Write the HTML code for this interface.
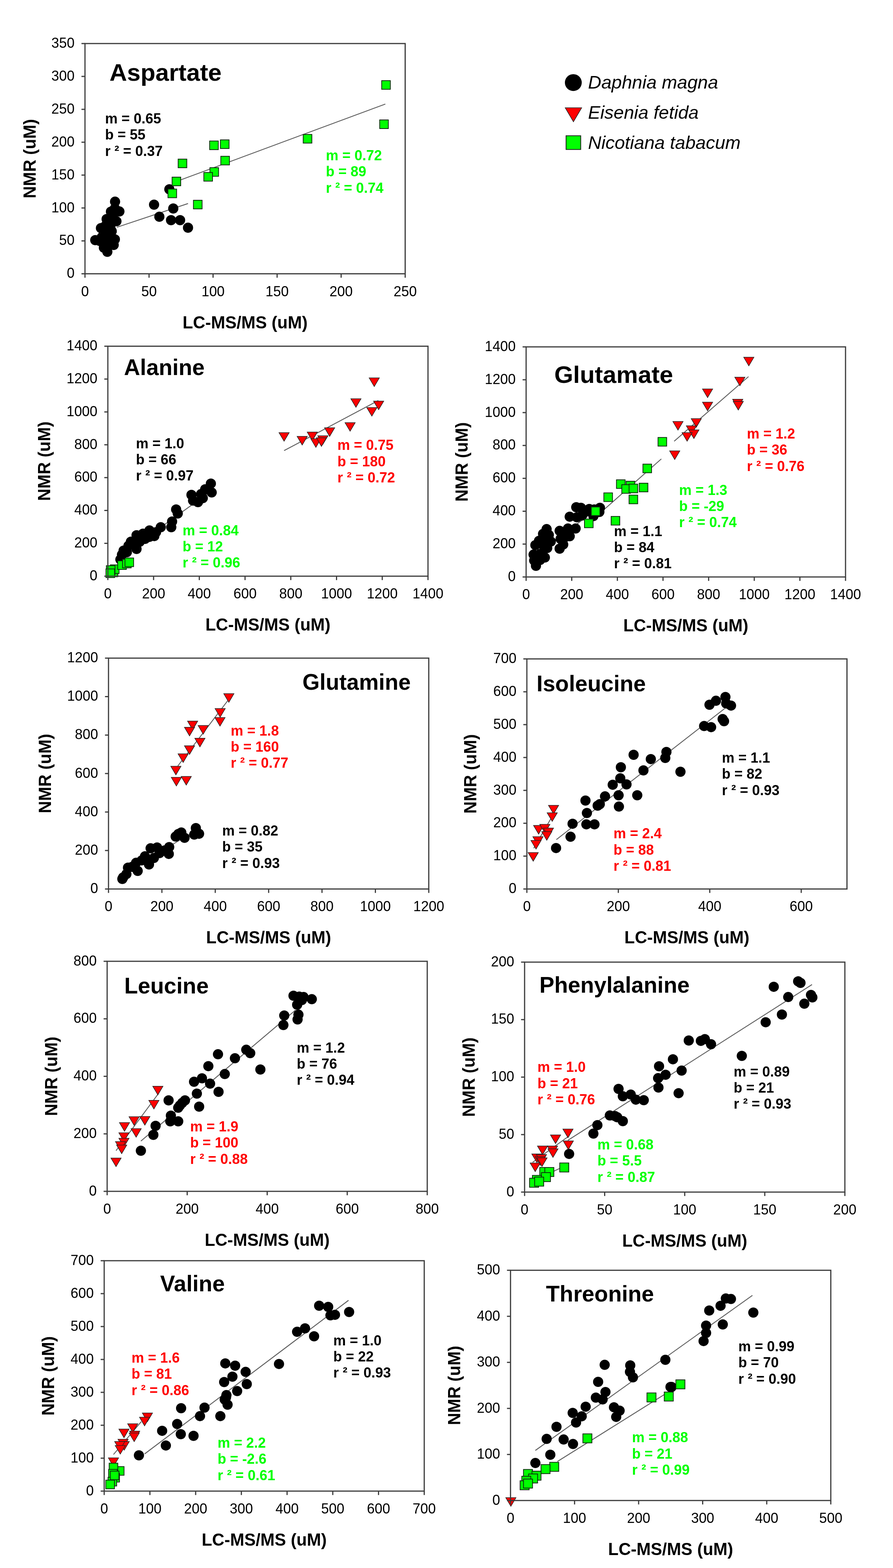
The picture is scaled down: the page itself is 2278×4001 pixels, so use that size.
<!DOCTYPE html>
<html><head><meta charset="utf-8"><title>NMR vs LC-MS/MS</title>
<style>html,body{margin:0;padding:0;background:#fff;} svg{display:block;}</style></head>
<body><svg width="2278" height="4001" viewBox="0 0 2278 4001" font-family="'Liberation Sans', Arial, sans-serif"><line x1="297.9" y1="580" x2="479.6" y2="519.4" stroke="#5a5a5a" stroke-width="2.2"/>
<line x1="461" y1="459" x2="983" y2="265.5" stroke="#5a5a5a" stroke-width="2.2"/>
<circle cx="293.5" cy="514.6" r="13" fill="#000"/>
<circle cx="304.6" cy="539.6" r="13" fill="#000"/>
<circle cx="293.0" cy="532.0" r="13" fill="#000"/>
<circle cx="272.0" cy="559.0" r="13" fill="#000"/>
<circle cx="297.0" cy="564.6" r="13" fill="#000"/>
<circle cx="257.5" cy="582.0" r="13" fill="#000"/>
<circle cx="281.5" cy="580.0" r="13" fill="#000"/>
<circle cx="243.0" cy="612.7" r="13" fill="#000"/>
<circle cx="268.0" cy="612.7" r="13" fill="#000"/>
<circle cx="293.0" cy="610.8" r="13" fill="#000"/>
<circle cx="283.5" cy="622.3" r="13" fill="#000"/>
<circle cx="273.8" cy="642.5" r="13" fill="#000"/>
<circle cx="277.7" cy="595.4" r="13" fill="#000"/>
<circle cx="264.2" cy="599.0" r="13" fill="#000"/>
<circle cx="287.3" cy="551.0" r="13" fill="#000"/>
<circle cx="283.0" cy="540.0" r="13" fill="#000"/>
<circle cx="290.0" cy="560.0" r="13" fill="#000"/>
<circle cx="280.0" cy="565.0" r="13" fill="#000"/>
<circle cx="270.0" cy="575.0" r="13" fill="#000"/>
<circle cx="285.0" cy="590.0" r="13" fill="#000"/>
<circle cx="270.0" cy="595.0" r="13" fill="#000"/>
<circle cx="260.0" cy="605.0" r="13" fill="#000"/>
<circle cx="280.0" cy="610.0" r="13" fill="#000"/>
<circle cx="255.0" cy="615.0" r="13" fill="#000"/>
<circle cx="275.0" cy="625.0" r="13" fill="#000"/>
<circle cx="290.0" cy="625.0" r="13" fill="#000"/>
<circle cx="265.0" cy="632.0" r="13" fill="#000"/>
<circle cx="393.0" cy="522.3" r="13" fill="#000"/>
<circle cx="442.0" cy="532.0" r="13" fill="#000"/>
<circle cx="406.5" cy="553.0" r="13" fill="#000"/>
<circle cx="436.3" cy="561.7" r="13" fill="#000"/>
<circle cx="459.4" cy="561.7" r="13" fill="#000"/>
<circle cx="479.6" cy="581.0" r="13" fill="#000"/>
<circle cx="432.0" cy="483.0" r="13" fill="#000"/>
<rect x="534.8" y="359.8" width="22" height="22" fill="#00ff00" stroke="#0d2a0d" stroke-width="2"/>
<rect x="562.3" y="356.9" width="22" height="22" fill="#00ff00" stroke="#0d2a0d" stroke-width="2"/>
<rect x="454.5" y="406.0" width="22" height="22" fill="#00ff00" stroke="#0d2a0d" stroke-width="2"/>
<rect x="439.0" y="452.0" width="22" height="22" fill="#00ff00" stroke="#0d2a0d" stroke-width="2"/>
<rect x="428.5" y="482.5" width="22" height="22" fill="#00ff00" stroke="#0d2a0d" stroke-width="2"/>
<rect x="535.5" y="427.8" width="22" height="22" fill="#00ff00" stroke="#0d2a0d" stroke-width="2"/>
<rect x="520.0" y="440.2" width="22" height="22" fill="#00ff00" stroke="#0d2a0d" stroke-width="2"/>
<rect x="493.5" y="511.0" width="22" height="22" fill="#00ff00" stroke="#0d2a0d" stroke-width="2"/>
<rect x="563.3" y="398.8" width="22" height="22" fill="#00ff00" stroke="#0d2a0d" stroke-width="2"/>
<rect x="773.5" y="343.1" width="22" height="22" fill="#00ff00" stroke="#0d2a0d" stroke-width="2"/>
<rect x="973.7" y="205.8" width="22" height="22" fill="#00ff00" stroke="#0d2a0d" stroke-width="2"/>
<rect x="968.6" y="306.0" width="22" height="22" fill="#00ff00" stroke="#0d2a0d" stroke-width="2"/>
<rect x="216.8" y="111.1" width="816.8" height="587.5" fill="none" stroke="#3c3c3c" stroke-width="3"/>
<line x1="216.8" y1="698.6" x2="216.8" y2="708.6" stroke="#3c3c3c" stroke-width="3"/>
<text transform="translate(216.8 755.6) scale(1 1.04)" font-size="35.5" font-weight="normal" font-style="normal" text-anchor="middle" fill="#000" >0</text>
<line x1="380.2" y1="698.6" x2="380.2" y2="708.6" stroke="#3c3c3c" stroke-width="3"/>
<text transform="translate(380.2 755.6) scale(1 1.04)" font-size="35.5" font-weight="normal" font-style="normal" text-anchor="middle" fill="#000" >50</text>
<line x1="543.5" y1="698.6" x2="543.5" y2="708.6" stroke="#3c3c3c" stroke-width="3"/>
<text transform="translate(543.5 755.6) scale(1 1.04)" font-size="35.5" font-weight="normal" font-style="normal" text-anchor="middle" fill="#000" >100</text>
<line x1="706.9" y1="698.6" x2="706.9" y2="708.6" stroke="#3c3c3c" stroke-width="3"/>
<text transform="translate(706.9 755.6) scale(1 1.04)" font-size="35.5" font-weight="normal" font-style="normal" text-anchor="middle" fill="#000" >150</text>
<line x1="870.2" y1="698.6" x2="870.2" y2="708.6" stroke="#3c3c3c" stroke-width="3"/>
<text transform="translate(870.2 755.6) scale(1 1.04)" font-size="35.5" font-weight="normal" font-style="normal" text-anchor="middle" fill="#000" >200</text>
<line x1="1033.6" y1="698.6" x2="1033.6" y2="708.6" stroke="#3c3c3c" stroke-width="3"/>
<text transform="translate(1033.6 755.6) scale(1 1.04)" font-size="35.5" font-weight="normal" font-style="normal" text-anchor="middle" fill="#000" >250</text>
<line x1="207.8" y1="698.6" x2="216.8" y2="698.6" stroke="#3c3c3c" stroke-width="3"/>
<text transform="translate(190.3 709.3) scale(1 1.04)" font-size="35.5" font-weight="normal" font-style="normal" text-anchor="end" fill="#000" >0</text>
<line x1="207.8" y1="614.7" x2="216.8" y2="614.7" stroke="#3c3c3c" stroke-width="3"/>
<text transform="translate(190.3 625.4) scale(1 1.04)" font-size="35.5" font-weight="normal" font-style="normal" text-anchor="end" fill="#000" >50</text>
<line x1="207.8" y1="530.7" x2="216.8" y2="530.7" stroke="#3c3c3c" stroke-width="3"/>
<text transform="translate(190.3 541.5) scale(1 1.04)" font-size="35.5" font-weight="normal" font-style="normal" text-anchor="end" fill="#000" >100</text>
<line x1="207.8" y1="446.8" x2="216.8" y2="446.8" stroke="#3c3c3c" stroke-width="3"/>
<text transform="translate(190.3 457.5) scale(1 1.04)" font-size="35.5" font-weight="normal" font-style="normal" text-anchor="end" fill="#000" >150</text>
<line x1="207.8" y1="362.9" x2="216.8" y2="362.9" stroke="#3c3c3c" stroke-width="3"/>
<text transform="translate(190.3 373.6) scale(1 1.04)" font-size="35.5" font-weight="normal" font-style="normal" text-anchor="end" fill="#000" >200</text>
<line x1="207.8" y1="279.0" x2="216.8" y2="279.0" stroke="#3c3c3c" stroke-width="3"/>
<text transform="translate(190.3 289.7) scale(1 1.04)" font-size="35.5" font-weight="normal" font-style="normal" text-anchor="end" fill="#000" >250</text>
<line x1="207.8" y1="195.0" x2="216.8" y2="195.0" stroke="#3c3c3c" stroke-width="3"/>
<text transform="translate(190.3 205.7) scale(1 1.04)" font-size="35.5" font-weight="normal" font-style="normal" text-anchor="end" fill="#000" >300</text>
<line x1="207.8" y1="111.1" x2="216.8" y2="111.1" stroke="#3c3c3c" stroke-width="3"/>
<text transform="translate(190.3 121.8) scale(1 1.04)" font-size="35.5" font-weight="normal" font-style="normal" text-anchor="end" fill="#000" >350</text>
<text x="625.2" y="837.6" font-size="43.5" font-weight="bold" font-style="normal" text-anchor="middle" fill="#000" >LC-MS/MS (uM)</text>
<text x="91.0" y="404.9" font-size="43.5" font-weight="bold" font-style="normal" text-anchor="middle" fill="#000" transform="rotate(-90 91.0 404.9)">NMR (uM)</text>
<text x="279.3" y="205.9" font-size="62" font-weight="bold" font-style="normal" text-anchor="start" fill="#000" >Aspartate</text>
<text transform="translate(268.0 315.0) scale(1 1.045)" font-size="36" font-weight="bold" font-style="normal" text-anchor="start" fill="#000" >m = 0.65</text>
<text transform="translate(268.0 356.3) scale(1 1.045)" font-size="36" font-weight="bold" font-style="normal" text-anchor="start" fill="#000" >b = 55</text>
<text transform="translate(268.0 397.6) scale(1 1.045)" font-size="36" font-weight="bold" font-style="normal" text-anchor="start" fill="#000" >r ² = 0.37</text>
<text transform="translate(831.2 409.0) scale(1 1.045)" font-size="36" font-weight="bold" font-style="normal" text-anchor="start" fill="#00ff00" >m = 0.72</text>
<text transform="translate(831.2 450.3) scale(1 1.045)" font-size="36" font-weight="bold" font-style="normal" text-anchor="start" fill="#00ff00" >b = 89</text>
<text transform="translate(831.2 491.6) scale(1 1.045)" font-size="36" font-weight="bold" font-style="normal" text-anchor="start" fill="#00ff00" >r ² = 0.74</text>
<line x1="307.2" y1="1419.5" x2="540.5" y2="1251.8" stroke="#5a5a5a" stroke-width="2.2"/>
<line x1="283.9" y1="1465.9" x2="327.6" y2="1433.5" stroke="#5a5a5a" stroke-width="2.2"/>
<line x1="724.7" y1="1149.8" x2="965.1" y2="1022" stroke="#5a5a5a" stroke-width="2.2"/>
<circle cx="537.9" cy="1233.9" r="13" fill="#000"/>
<circle cx="540.0" cy="1256.6" r="13" fill="#000"/>
<circle cx="523.4" cy="1248.4" r="13" fill="#000"/>
<circle cx="513.0" cy="1260.7" r="13" fill="#000"/>
<circle cx="488.4" cy="1262.8" r="13" fill="#000"/>
<circle cx="492.5" cy="1277.2" r="13" fill="#000"/>
<circle cx="505.0" cy="1281.3" r="13" fill="#000"/>
<circle cx="517.3" cy="1271.0" r="13" fill="#000"/>
<circle cx="449.3" cy="1299.9" r="13" fill="#000"/>
<circle cx="453.4" cy="1310.2" r="13" fill="#000"/>
<circle cx="439.0" cy="1330.8" r="13" fill="#000"/>
<circle cx="436.9" cy="1345.2" r="13" fill="#000"/>
<circle cx="410.1" cy="1345.2" r="13" fill="#000"/>
<circle cx="381.3" cy="1353.5" r="13" fill="#000"/>
<circle cx="393.6" cy="1367.9" r="13" fill="#000"/>
<circle cx="381.3" cy="1369.9" r="13" fill="#000"/>
<circle cx="364.8" cy="1361.7" r="13" fill="#000"/>
<circle cx="348.3" cy="1365.8" r="13" fill="#000"/>
<circle cx="356.5" cy="1382.3" r="13" fill="#000"/>
<circle cx="348.3" cy="1400.8" r="13" fill="#000"/>
<circle cx="333.9" cy="1382.3" r="13" fill="#000"/>
<circle cx="327.7" cy="1392.6" r="13" fill="#000"/>
<circle cx="315.3" cy="1405.0" r="13" fill="#000"/>
<circle cx="311.2" cy="1415.3" r="13" fill="#000"/>
<circle cx="323.6" cy="1409.1" r="13" fill="#000"/>
<circle cx="307.1" cy="1427.6" r="13" fill="#000"/>
<circle cx="340.0" cy="1390.0" r="13" fill="#000"/>
<circle cx="370.0" cy="1375.0" r="13" fill="#000"/>
<circle cx="398.0" cy="1358.0" r="13" fill="#000"/>
<polygon points="941.7,964.3 967.7,964.3 954.7,986.3" fill="#ff0000" stroke="#222" stroke-width="1.5"/>
<polygon points="895.0,1017.4 921.0,1017.4 908.0,1039.4" fill="#ff0000" stroke="#222" stroke-width="1.5"/>
<polygon points="952.9,1023.4 978.9,1023.4 965.9,1045.4" fill="#ff0000" stroke="#222" stroke-width="1.5"/>
<polygon points="935.6,1039.9 961.6,1039.9 948.6,1061.9" fill="#ff0000" stroke="#222" stroke-width="1.5"/>
<polygon points="880.1,1078.4 906.1,1078.4 893.1,1100.4" fill="#ff0000" stroke="#222" stroke-width="1.5"/>
<polygon points="827.9,1091.5 853.9,1091.5 840.9,1113.5" fill="#ff0000" stroke="#222" stroke-width="1.5"/>
<polygon points="711.7,1103.9 737.7,1103.9 724.7,1125.9" fill="#ff0000" stroke="#222" stroke-width="1.5"/>
<polygon points="757.9,1113.5 783.9,1113.5 770.9,1135.5" fill="#ff0000" stroke="#222" stroke-width="1.5"/>
<polygon points="783.7,1102.5 809.7,1102.5 796.7,1124.5" fill="#ff0000" stroke="#222" stroke-width="1.5"/>
<polygon points="792.8,1119.6 818.8,1119.6 805.8,1141.6" fill="#ff0000" stroke="#222" stroke-width="1.5"/>
<polygon points="810.6,1111.9 836.6,1111.9 823.6,1133.9" fill="#ff0000" stroke="#222" stroke-width="1.5"/>
<polygon points="807.0,1117.0 833.0,1117.0 820.0,1139.0" fill="#ff0000" stroke="#222" stroke-width="1.5"/>
<rect x="278.6" y="1449.6" width="22" height="22" fill="#00ff00" stroke="#0d2a0d" stroke-width="2"/>
<rect x="281.7" y="1441.4" width="22" height="22" fill="#00ff00" stroke="#0d2a0d" stroke-width="2"/>
<rect x="271.4" y="1443.4" width="22" height="22" fill="#00ff00" stroke="#0d2a0d" stroke-width="2"/>
<rect x="300.2" y="1431.0" width="22" height="22" fill="#00ff00" stroke="#0d2a0d" stroke-width="2"/>
<rect x="312.6" y="1427.0" width="22" height="22" fill="#00ff00" stroke="#0d2a0d" stroke-width="2"/>
<rect x="318.8" y="1423.8" width="22" height="22" fill="#00ff00" stroke="#0d2a0d" stroke-width="2"/>
<rect x="270.3" y="1451.7" width="22" height="22" fill="#00ff00" stroke="#0d2a0d" stroke-width="2"/>
<rect x="275.1" y="883.4" width="816.6999999999999" height="586.8000000000001" fill="none" stroke="#3c3c3c" stroke-width="3"/>
<line x1="275.1" y1="1470.2" x2="275.1" y2="1480.2" stroke="#3c3c3c" stroke-width="3"/>
<text transform="translate(275.1 1527.2) scale(1 1.04)" font-size="35.5" font-weight="normal" font-style="normal" text-anchor="middle" fill="#000" >0</text>
<line x1="391.8" y1="1470.2" x2="391.8" y2="1480.2" stroke="#3c3c3c" stroke-width="3"/>
<text transform="translate(391.8 1527.2) scale(1 1.04)" font-size="35.5" font-weight="normal" font-style="normal" text-anchor="middle" fill="#000" >200</text>
<line x1="508.4" y1="1470.2" x2="508.4" y2="1480.2" stroke="#3c3c3c" stroke-width="3"/>
<text transform="translate(508.4 1527.2) scale(1 1.04)" font-size="35.5" font-weight="normal" font-style="normal" text-anchor="middle" fill="#000" >400</text>
<line x1="625.1" y1="1470.2" x2="625.1" y2="1480.2" stroke="#3c3c3c" stroke-width="3"/>
<text transform="translate(625.1 1527.2) scale(1 1.04)" font-size="35.5" font-weight="normal" font-style="normal" text-anchor="middle" fill="#000" >600</text>
<line x1="741.8" y1="1470.2" x2="741.8" y2="1480.2" stroke="#3c3c3c" stroke-width="3"/>
<text transform="translate(741.8 1527.2) scale(1 1.04)" font-size="35.5" font-weight="normal" font-style="normal" text-anchor="middle" fill="#000" >800</text>
<line x1="858.5" y1="1470.2" x2="858.5" y2="1480.2" stroke="#3c3c3c" stroke-width="3"/>
<text transform="translate(858.5 1527.2) scale(1 1.04)" font-size="35.5" font-weight="normal" font-style="normal" text-anchor="middle" fill="#000" >1000</text>
<line x1="975.1" y1="1470.2" x2="975.1" y2="1480.2" stroke="#3c3c3c" stroke-width="3"/>
<text transform="translate(975.1 1527.2) scale(1 1.04)" font-size="35.5" font-weight="normal" font-style="normal" text-anchor="middle" fill="#000" >1200</text>
<line x1="1091.8" y1="1470.2" x2="1091.8" y2="1480.2" stroke="#3c3c3c" stroke-width="3"/>
<text transform="translate(1091.8 1527.2) scale(1 1.04)" font-size="35.5" font-weight="normal" font-style="normal" text-anchor="middle" fill="#000" >1400</text>
<line x1="266.1" y1="1470.2" x2="275.1" y2="1470.2" stroke="#3c3c3c" stroke-width="3"/>
<text transform="translate(248.6 1480.9) scale(1 1.04)" font-size="35.5" font-weight="normal" font-style="normal" text-anchor="end" fill="#000" >0</text>
<line x1="266.1" y1="1386.4" x2="275.1" y2="1386.4" stroke="#3c3c3c" stroke-width="3"/>
<text transform="translate(248.6 1397.1) scale(1 1.04)" font-size="35.5" font-weight="normal" font-style="normal" text-anchor="end" fill="#000" >200</text>
<line x1="266.1" y1="1302.5" x2="275.1" y2="1302.5" stroke="#3c3c3c" stroke-width="3"/>
<text transform="translate(248.6 1313.3) scale(1 1.04)" font-size="35.5" font-weight="normal" font-style="normal" text-anchor="end" fill="#000" >400</text>
<line x1="266.1" y1="1218.7" x2="275.1" y2="1218.7" stroke="#3c3c3c" stroke-width="3"/>
<text transform="translate(248.6 1229.4) scale(1 1.04)" font-size="35.5" font-weight="normal" font-style="normal" text-anchor="end" fill="#000" >600</text>
<line x1="266.1" y1="1134.9" x2="275.1" y2="1134.9" stroke="#3c3c3c" stroke-width="3"/>
<text transform="translate(248.6 1145.6) scale(1 1.04)" font-size="35.5" font-weight="normal" font-style="normal" text-anchor="end" fill="#000" >800</text>
<line x1="266.1" y1="1051.1" x2="275.1" y2="1051.1" stroke="#3c3c3c" stroke-width="3"/>
<text transform="translate(248.6 1061.8) scale(1 1.04)" font-size="35.5" font-weight="normal" font-style="normal" text-anchor="end" fill="#000" >1000</text>
<line x1="266.1" y1="967.2" x2="275.1" y2="967.2" stroke="#3c3c3c" stroke-width="3"/>
<text transform="translate(248.6 977.9) scale(1 1.04)" font-size="35.5" font-weight="normal" font-style="normal" text-anchor="end" fill="#000" >1200</text>
<line x1="266.1" y1="883.4" x2="275.1" y2="883.4" stroke="#3c3c3c" stroke-width="3"/>
<text transform="translate(248.6 894.1) scale(1 1.04)" font-size="35.5" font-weight="normal" font-style="normal" text-anchor="end" fill="#000" >1400</text>
<text x="683.5" y="1609.2" font-size="43.5" font-weight="bold" font-style="normal" text-anchor="middle" fill="#000" >LC-MS/MS (uM)</text>
<text x="128.5" y="1176.8" font-size="43.5" font-weight="bold" font-style="normal" text-anchor="middle" fill="#000" transform="rotate(-90 128.5 1176.8)">NMR (uM)</text>
<text x="316.2" y="956.9" font-size="57" font-weight="bold" font-style="normal" text-anchor="start" fill="#000" >Alanine</text>
<text transform="translate(346.7 1143.7) scale(1 1.045)" font-size="36" font-weight="bold" font-style="normal" text-anchor="start" fill="#000" >m = 1.0</text>
<text transform="translate(346.7 1185.0) scale(1 1.045)" font-size="36" font-weight="bold" font-style="normal" text-anchor="start" fill="#000" >b = 66</text>
<text transform="translate(346.7 1226.3) scale(1 1.045)" font-size="36" font-weight="bold" font-style="normal" text-anchor="start" fill="#000" >r ² = 0.97</text>
<text transform="translate(465.8 1365.8) scale(1 1.045)" font-size="36" font-weight="bold" font-style="normal" text-anchor="start" fill="#00ff00" >m = 0.84</text>
<text transform="translate(465.8 1407.1) scale(1 1.045)" font-size="36" font-weight="bold" font-style="normal" text-anchor="start" fill="#00ff00" >b = 12</text>
<text transform="translate(465.8 1448.4) scale(1 1.045)" font-size="36" font-weight="bold" font-style="normal" text-anchor="start" fill="#00ff00" >r ² = 0.96</text>
<text transform="translate(860.7 1148.4) scale(1 1.045)" font-size="36" font-weight="bold" font-style="normal" text-anchor="start" fill="#ff0000" >m = 0.75</text>
<text transform="translate(860.7 1189.7) scale(1 1.045)" font-size="36" font-weight="bold" font-style="normal" text-anchor="start" fill="#ff0000" >b = 180</text>
<text transform="translate(860.7 1231.0) scale(1 1.045)" font-size="36" font-weight="bold" font-style="normal" text-anchor="start" fill="#ff0000" >r ² = 0.72</text>
<line x1="1365" y1="1418" x2="1534" y2="1290" stroke="#5a5a5a" stroke-width="2.2"/>
<line x1="1505" y1="1332" x2="1687" y2="1171" stroke="#5a5a5a" stroke-width="2.2"/>
<line x1="1719.8" y1="1125.9" x2="1909.4" y2="961" stroke="#5a5a5a" stroke-width="2.2"/>
<circle cx="1470.0" cy="1294.2" r="13" fill="#000"/>
<circle cx="1482.0" cy="1295.7" r="13" fill="#000"/>
<circle cx="1503.2" cy="1298.7" r="13" fill="#000"/>
<circle cx="1530.4" cy="1295.7" r="13" fill="#000"/>
<circle cx="1528.9" cy="1306.3" r="13" fill="#000"/>
<circle cx="1453.3" cy="1318.4" r="13" fill="#000"/>
<circle cx="1471.5" cy="1319.9" r="13" fill="#000"/>
<circle cx="1513.8" cy="1316.8" r="13" fill="#000"/>
<circle cx="1485.0" cy="1315.3" r="13" fill="#000"/>
<circle cx="1495.0" cy="1305.0" r="13" fill="#000"/>
<circle cx="1516.0" cy="1300.0" r="13" fill="#000"/>
<circle cx="1468.4" cy="1348.6" r="13" fill="#000"/>
<circle cx="1448.8" cy="1348.6" r="13" fill="#000"/>
<circle cx="1427.6" cy="1354.6" r="13" fill="#000"/>
<circle cx="1453.3" cy="1368.2" r="13" fill="#000"/>
<circle cx="1442.7" cy="1369.7" r="13" fill="#000"/>
<circle cx="1430.0" cy="1375.0" r="13" fill="#000"/>
<circle cx="1394.4" cy="1350.1" r="13" fill="#000"/>
<circle cx="1385.3" cy="1362.2" r="13" fill="#000"/>
<circle cx="1405.0" cy="1381.8" r="13" fill="#000"/>
<circle cx="1427.6" cy="1400.0" r="13" fill="#000"/>
<circle cx="1436.7" cy="1389.4" r="13" fill="#000"/>
<circle cx="1365.7" cy="1390.9" r="13" fill="#000"/>
<circle cx="1385.3" cy="1390.9" r="13" fill="#000"/>
<circle cx="1395.9" cy="1398.4" r="13" fill="#000"/>
<circle cx="1361.2" cy="1415.1" r="13" fill="#000"/>
<circle cx="1389.9" cy="1422.6" r="13" fill="#000"/>
<circle cx="1377.8" cy="1413.5" r="13" fill="#000"/>
<circle cx="1367.2" cy="1443.8" r="13" fill="#000"/>
<circle cx="1362.7" cy="1430.2" r="13" fill="#000"/>
<circle cx="1377.8" cy="1428.7" r="13" fill="#000"/>
<circle cx="1392.0" cy="1372.0" r="13" fill="#000"/>
<circle cx="1400.0" cy="1365.0" r="13" fill="#000"/>
<circle cx="1375.0" cy="1380.0" r="13" fill="#000"/>
<polygon points="1897.2,911.6 1923.2,911.6 1910.2,933.6" fill="#ff0000" stroke="#222" stroke-width="1.5"/>
<polygon points="1874.4,962.4 1900.4,962.4 1887.4,984.4" fill="#ff0000" stroke="#222" stroke-width="1.5"/>
<polygon points="1792.0,992.6 1818.0,992.6 1805.0,1014.6" fill="#ff0000" stroke="#222" stroke-width="1.5"/>
<polygon points="1792.0,1026.2 1818.0,1026.2 1805.0,1048.2" fill="#ff0000" stroke="#222" stroke-width="1.5"/>
<polygon points="1868.9,1018.7 1894.9,1018.7 1881.9,1040.7" fill="#ff0000" stroke="#222" stroke-width="1.5"/>
<polygon points="1870.3,1024.2 1896.3,1024.2 1883.3,1046.2" fill="#ff0000" stroke="#222" stroke-width="1.5"/>
<polygon points="1763.2,1068.2 1789.2,1068.2 1776.2,1090.2" fill="#ff0000" stroke="#222" stroke-width="1.5"/>
<polygon points="1716.5,1075.6 1742.5,1075.6 1729.5,1097.6" fill="#ff0000" stroke="#222" stroke-width="1.5"/>
<polygon points="1750.8,1086.6 1776.8,1086.6 1763.8,1108.6" fill="#ff0000" stroke="#222" stroke-width="1.5"/>
<polygon points="1757.1,1097.0 1783.1,1097.0 1770.1,1119.0" fill="#ff0000" stroke="#222" stroke-width="1.5"/>
<polygon points="1739.8,1103.9 1765.8,1103.9 1752.8,1125.9" fill="#ff0000" stroke="#222" stroke-width="1.5"/>
<polygon points="1708.2,1150.6 1734.2,1150.6 1721.2,1172.6" fill="#ff0000" stroke="#222" stroke-width="1.5"/>
<rect x="1640.1" y="1184.3" width="22" height="22" fill="#00ff00" stroke="#0d2a0d" stroke-width="2"/>
<rect x="1572.6" y="1224.3" width="22" height="22" fill="#00ff00" stroke="#0d2a0d" stroke-width="2"/>
<rect x="1597.3" y="1228.0" width="22" height="22" fill="#00ff00" stroke="#0d2a0d" stroke-width="2"/>
<rect x="1586.2" y="1236.7" width="22" height="22" fill="#00ff00" stroke="#0d2a0d" stroke-width="2"/>
<rect x="1604.7" y="1235.4" width="22" height="22" fill="#00ff00" stroke="#0d2a0d" stroke-width="2"/>
<rect x="1630.7" y="1233.0" width="22" height="22" fill="#00ff00" stroke="#0d2a0d" stroke-width="2"/>
<rect x="1540.4" y="1257.7" width="22" height="22" fill="#00ff00" stroke="#0d2a0d" stroke-width="2"/>
<rect x="1604.7" y="1263.4" width="22" height="22" fill="#00ff00" stroke="#0d2a0d" stroke-width="2"/>
<rect x="1508.3" y="1293.6" width="22" height="22" fill="#00ff00" stroke="#0d2a0d" stroke-width="2"/>
<rect x="1491.0" y="1324.5" width="22" height="22" fill="#00ff00" stroke="#0d2a0d" stroke-width="2"/>
<rect x="1559.0" y="1317.8" width="22" height="22" fill="#00ff00" stroke="#0d2a0d" stroke-width="2"/>
<rect x="1678.6" y="1116.3" width="22" height="22" fill="#00ff00" stroke="#0d2a0d" stroke-width="2"/>
<rect x="1342.1" y="885.1" width="814.8000000000002" height="587.1" fill="none" stroke="#3c3c3c" stroke-width="3"/>
<line x1="1342.1" y1="1472.2" x2="1342.1" y2="1482.2" stroke="#3c3c3c" stroke-width="3"/>
<text transform="translate(1342.1 1529.2) scale(1 1.04)" font-size="35.5" font-weight="normal" font-style="normal" text-anchor="middle" fill="#000" >0</text>
<line x1="1458.5" y1="1472.2" x2="1458.5" y2="1482.2" stroke="#3c3c3c" stroke-width="3"/>
<text transform="translate(1458.5 1529.2) scale(1 1.04)" font-size="35.5" font-weight="normal" font-style="normal" text-anchor="middle" fill="#000" >200</text>
<line x1="1574.9" y1="1472.2" x2="1574.9" y2="1482.2" stroke="#3c3c3c" stroke-width="3"/>
<text transform="translate(1574.9 1529.2) scale(1 1.04)" font-size="35.5" font-weight="normal" font-style="normal" text-anchor="middle" fill="#000" >400</text>
<line x1="1691.3" y1="1472.2" x2="1691.3" y2="1482.2" stroke="#3c3c3c" stroke-width="3"/>
<text transform="translate(1691.3 1529.2) scale(1 1.04)" font-size="35.5" font-weight="normal" font-style="normal" text-anchor="middle" fill="#000" >600</text>
<line x1="1807.7" y1="1472.2" x2="1807.7" y2="1482.2" stroke="#3c3c3c" stroke-width="3"/>
<text transform="translate(1807.7 1529.2) scale(1 1.04)" font-size="35.5" font-weight="normal" font-style="normal" text-anchor="middle" fill="#000" >800</text>
<line x1="1924.1" y1="1472.2" x2="1924.1" y2="1482.2" stroke="#3c3c3c" stroke-width="3"/>
<text transform="translate(1924.1 1529.2) scale(1 1.04)" font-size="35.5" font-weight="normal" font-style="normal" text-anchor="middle" fill="#000" >1000</text>
<line x1="2040.5" y1="1472.2" x2="2040.5" y2="1482.2" stroke="#3c3c3c" stroke-width="3"/>
<text transform="translate(2040.5 1529.2) scale(1 1.04)" font-size="35.5" font-weight="normal" font-style="normal" text-anchor="middle" fill="#000" >1200</text>
<line x1="2156.9" y1="1472.2" x2="2156.9" y2="1482.2" stroke="#3c3c3c" stroke-width="3"/>
<text transform="translate(2156.9 1529.2) scale(1 1.04)" font-size="35.5" font-weight="normal" font-style="normal" text-anchor="middle" fill="#000" >1400</text>
<line x1="1333.1" y1="1472.2" x2="1342.1" y2="1472.2" stroke="#3c3c3c" stroke-width="3"/>
<text transform="translate(1315.6 1482.9) scale(1 1.04)" font-size="35.5" font-weight="normal" font-style="normal" text-anchor="end" fill="#000" >0</text>
<line x1="1333.1" y1="1388.3" x2="1342.1" y2="1388.3" stroke="#3c3c3c" stroke-width="3"/>
<text transform="translate(1315.6 1399.0) scale(1 1.04)" font-size="35.5" font-weight="normal" font-style="normal" text-anchor="end" fill="#000" >200</text>
<line x1="1333.1" y1="1304.5" x2="1342.1" y2="1304.5" stroke="#3c3c3c" stroke-width="3"/>
<text transform="translate(1315.6 1315.2) scale(1 1.04)" font-size="35.5" font-weight="normal" font-style="normal" text-anchor="end" fill="#000" >400</text>
<line x1="1333.1" y1="1220.6" x2="1342.1" y2="1220.6" stroke="#3c3c3c" stroke-width="3"/>
<text transform="translate(1315.6 1231.3) scale(1 1.04)" font-size="35.5" font-weight="normal" font-style="normal" text-anchor="end" fill="#000" >600</text>
<line x1="1333.1" y1="1136.7" x2="1342.1" y2="1136.7" stroke="#3c3c3c" stroke-width="3"/>
<text transform="translate(1315.6 1147.4) scale(1 1.04)" font-size="35.5" font-weight="normal" font-style="normal" text-anchor="end" fill="#000" >800</text>
<line x1="1333.1" y1="1052.8" x2="1342.1" y2="1052.8" stroke="#3c3c3c" stroke-width="3"/>
<text transform="translate(1315.6 1063.6) scale(1 1.04)" font-size="35.5" font-weight="normal" font-style="normal" text-anchor="end" fill="#000" >1000</text>
<line x1="1333.1" y1="969.0" x2="1342.1" y2="969.0" stroke="#3c3c3c" stroke-width="3"/>
<text transform="translate(1315.6 979.7) scale(1 1.04)" font-size="35.5" font-weight="normal" font-style="normal" text-anchor="end" fill="#000" >1200</text>
<line x1="1333.1" y1="885.1" x2="1342.1" y2="885.1" stroke="#3c3c3c" stroke-width="3"/>
<text transform="translate(1315.6 895.8) scale(1 1.04)" font-size="35.5" font-weight="normal" font-style="normal" text-anchor="end" fill="#000" >1400</text>
<text x="1749.5" y="1611.2" font-size="43.5" font-weight="bold" font-style="normal" text-anchor="middle" fill="#000" >LC-MS/MS (uM)</text>
<text x="1193.0" y="1178.7" font-size="43.5" font-weight="bold" font-style="normal" text-anchor="middle" fill="#000" transform="rotate(-90 1193.0 1178.7)">NMR (uM)</text>
<text x="1413.9" y="976.8" font-size="62" font-weight="bold" font-style="normal" text-anchor="start" fill="#000" >Glutamate</text>
<text transform="translate(1566.3 1367.6) scale(1 1.045)" font-size="36" font-weight="bold" font-style="normal" text-anchor="start" fill="#000" >m = 1.1</text>
<text transform="translate(1566.3 1408.9) scale(1 1.045)" font-size="36" font-weight="bold" font-style="normal" text-anchor="start" fill="#000" >b = 84</text>
<text transform="translate(1566.3 1450.2) scale(1 1.045)" font-size="36" font-weight="bold" font-style="normal" text-anchor="start" fill="#000" >r ² = 0.81</text>
<text transform="translate(1732.3 1262.5) scale(1 1.045)" font-size="36" font-weight="bold" font-style="normal" text-anchor="start" fill="#00ff00" >m = 1.3</text>
<text transform="translate(1732.3 1303.8) scale(1 1.045)" font-size="36" font-weight="bold" font-style="normal" text-anchor="start" fill="#00ff00" >b = -29</text>
<text transform="translate(1732.3 1345.1) scale(1 1.045)" font-size="36" font-weight="bold" font-style="normal" text-anchor="start" fill="#00ff00" >r ² = 0.74</text>
<text transform="translate(1905.3 1119.0) scale(1 1.045)" font-size="36" font-weight="bold" font-style="normal" text-anchor="start" fill="#ff0000" >m = 1.2</text>
<text transform="translate(1905.3 1160.3) scale(1 1.045)" font-size="36" font-weight="bold" font-style="normal" text-anchor="start" fill="#ff0000" >b = 36</text>
<text transform="translate(1905.3 1201.6) scale(1 1.045)" font-size="36" font-weight="bold" font-style="normal" text-anchor="start" fill="#ff0000" >r ² = 0.76</text>
<line x1="310.8" y1="2231.1" x2="501.5" y2="2118.4" stroke="#5a5a5a" stroke-width="2.2"/>
<line x1="453.5" y1="1954.7" x2="582.1" y2="1786.4" stroke="#5a5a5a" stroke-width="2.2"/>
<circle cx="499.6" cy="2113.0" r="13" fill="#000"/>
<circle cx="507.8" cy="2127.4" r="13" fill="#000"/>
<circle cx="495.5" cy="2129.5" r="13" fill="#000"/>
<circle cx="462.5" cy="2124.3" r="13" fill="#000"/>
<circle cx="448.1" cy="2134.6" r="13" fill="#000"/>
<circle cx="470.8" cy="2137.7" r="13" fill="#000"/>
<circle cx="431.6" cy="2161.4" r="13" fill="#000"/>
<circle cx="430.6" cy="2178.9" r="13" fill="#000"/>
<circle cx="400.7" cy="2162.4" r="13" fill="#000"/>
<circle cx="384.2" cy="2164.5" r="13" fill="#000"/>
<circle cx="406.9" cy="2176.8" r="13" fill="#000"/>
<circle cx="369.8" cy="2185.1" r="13" fill="#000"/>
<circle cx="392.5" cy="2189.2" r="13" fill="#000"/>
<circle cx="380.1" cy="2205.7" r="13" fill="#000"/>
<circle cx="347.1" cy="2201.6" r="13" fill="#000"/>
<circle cx="351.2" cy="2222.2" r="13" fill="#000"/>
<circle cx="326.5" cy="2213.9" r="13" fill="#000"/>
<circle cx="322.4" cy="2230.4" r="13" fill="#000"/>
<circle cx="314.2" cy="2238.7" r="13" fill="#000"/>
<circle cx="312.1" cy="2242.8" r="13" fill="#000"/>
<circle cx="361.5" cy="2195.4" r="13" fill="#000"/>
<circle cx="336.8" cy="2211.9" r="13" fill="#000"/>
<circle cx="420.0" cy="2170.0" r="13" fill="#000"/>
<circle cx="455.0" cy="2128.0" r="13" fill="#000"/>
<polygon points="570.8,1770.1 596.8,1770.1 583.8,1792.1" fill="#ff0000" stroke="#222" stroke-width="1.5"/>
<polygon points="548.6,1808.1 574.6,1808.1 561.6,1830.1" fill="#ff0000" stroke="#222" stroke-width="1.5"/>
<polygon points="548.2,1830.9 574.2,1830.9 561.2,1852.9" fill="#ff0000" stroke="#222" stroke-width="1.5"/>
<polygon points="478.4,1840.0 504.4,1840.0 491.4,1862.0" fill="#ff0000" stroke="#222" stroke-width="1.5"/>
<polygon points="470.5,1855.7 496.5,1855.7 483.5,1877.7" fill="#ff0000" stroke="#222" stroke-width="1.5"/>
<polygon points="505.4,1851.3 531.4,1851.3 518.4,1873.3" fill="#ff0000" stroke="#222" stroke-width="1.5"/>
<polygon points="497.0,1883.8 523.0,1883.8 510.0,1905.8" fill="#ff0000" stroke="#222" stroke-width="1.5"/>
<polygon points="470.5,1903.0 496.5,1903.0 483.5,1925.0" fill="#ff0000" stroke="#222" stroke-width="1.5"/>
<polygon points="454.2,1923.5 480.2,1923.5 467.2,1945.5" fill="#ff0000" stroke="#222" stroke-width="1.5"/>
<polygon points="435.7,1955.2 461.7,1955.2 448.7,1977.2" fill="#ff0000" stroke="#222" stroke-width="1.5"/>
<polygon points="436.9,1983.6 462.9,1983.6 449.9,2005.6" fill="#ff0000" stroke="#222" stroke-width="1.5"/>
<polygon points="462.1,1981.2 488.1,1981.2 475.1,2003.2" fill="#ff0000" stroke="#222" stroke-width="1.5"/>
<rect x="276.8" y="1679.3" width="816.95" height="589.1000000000001" fill="none" stroke="#3c3c3c" stroke-width="3"/>
<line x1="276.8" y1="2268.4" x2="276.8" y2="2278.4" stroke="#3c3c3c" stroke-width="3"/>
<text transform="translate(276.8 2325.4) scale(1 1.04)" font-size="35.5" font-weight="normal" font-style="normal" text-anchor="middle" fill="#000" >0</text>
<line x1="413.0" y1="2268.4" x2="413.0" y2="2278.4" stroke="#3c3c3c" stroke-width="3"/>
<text transform="translate(413.0 2325.4) scale(1 1.04)" font-size="35.5" font-weight="normal" font-style="normal" text-anchor="middle" fill="#000" >200</text>
<line x1="549.1" y1="2268.4" x2="549.1" y2="2278.4" stroke="#3c3c3c" stroke-width="3"/>
<text transform="translate(549.1 2325.4) scale(1 1.04)" font-size="35.5" font-weight="normal" font-style="normal" text-anchor="middle" fill="#000" >400</text>
<line x1="685.3" y1="2268.4" x2="685.3" y2="2278.4" stroke="#3c3c3c" stroke-width="3"/>
<text transform="translate(685.3 2325.4) scale(1 1.04)" font-size="35.5" font-weight="normal" font-style="normal" text-anchor="middle" fill="#000" >600</text>
<line x1="821.4" y1="2268.4" x2="821.4" y2="2278.4" stroke="#3c3c3c" stroke-width="3"/>
<text transform="translate(821.4 2325.4) scale(1 1.04)" font-size="35.5" font-weight="normal" font-style="normal" text-anchor="middle" fill="#000" >800</text>
<line x1="957.6" y1="2268.4" x2="957.6" y2="2278.4" stroke="#3c3c3c" stroke-width="3"/>
<text transform="translate(957.6 2325.4) scale(1 1.04)" font-size="35.5" font-weight="normal" font-style="normal" text-anchor="middle" fill="#000" >1000</text>
<line x1="1093.8" y1="2268.4" x2="1093.8" y2="2278.4" stroke="#3c3c3c" stroke-width="3"/>
<text transform="translate(1093.8 2325.4) scale(1 1.04)" font-size="35.5" font-weight="normal" font-style="normal" text-anchor="middle" fill="#000" >1200</text>
<line x1="267.8" y1="2268.4" x2="276.8" y2="2268.4" stroke="#3c3c3c" stroke-width="3"/>
<text transform="translate(250.3 2279.1) scale(1 1.04)" font-size="35.5" font-weight="normal" font-style="normal" text-anchor="end" fill="#000" >0</text>
<line x1="267.8" y1="2170.2" x2="276.8" y2="2170.2" stroke="#3c3c3c" stroke-width="3"/>
<text transform="translate(250.3 2180.9) scale(1 1.04)" font-size="35.5" font-weight="normal" font-style="normal" text-anchor="end" fill="#000" >200</text>
<line x1="267.8" y1="2072.0" x2="276.8" y2="2072.0" stroke="#3c3c3c" stroke-width="3"/>
<text transform="translate(250.3 2082.8) scale(1 1.04)" font-size="35.5" font-weight="normal" font-style="normal" text-anchor="end" fill="#000" >400</text>
<line x1="267.8" y1="1973.8" x2="276.8" y2="1973.8" stroke="#3c3c3c" stroke-width="3"/>
<text transform="translate(250.3 1984.6) scale(1 1.04)" font-size="35.5" font-weight="normal" font-style="normal" text-anchor="end" fill="#000" >600</text>
<line x1="267.8" y1="1875.7" x2="276.8" y2="1875.7" stroke="#3c3c3c" stroke-width="3"/>
<text transform="translate(250.3 1886.4) scale(1 1.04)" font-size="35.5" font-weight="normal" font-style="normal" text-anchor="end" fill="#000" >800</text>
<line x1="267.8" y1="1777.5" x2="276.8" y2="1777.5" stroke="#3c3c3c" stroke-width="3"/>
<text transform="translate(250.3 1788.2) scale(1 1.04)" font-size="35.5" font-weight="normal" font-style="normal" text-anchor="end" fill="#000" >1000</text>
<line x1="267.8" y1="1679.3" x2="276.8" y2="1679.3" stroke="#3c3c3c" stroke-width="3"/>
<text transform="translate(250.3 1690.0) scale(1 1.04)" font-size="35.5" font-weight="normal" font-style="normal" text-anchor="end" fill="#000" >1200</text>
<text x="685.3" y="2407.4" font-size="43.5" font-weight="bold" font-style="normal" text-anchor="middle" fill="#000" >LC-MS/MS (uM)</text>
<text x="130.0" y="1973.8" font-size="43.5" font-weight="bold" font-style="normal" text-anchor="middle" fill="#000" transform="rotate(-90 130.0 1973.8)">NMR (uM)</text>
<text x="771.4" y="1760.0" font-size="56.5" font-weight="bold" font-style="normal" text-anchor="start" fill="#000" >Glutamine</text>
<text transform="translate(588.6 1876.8) scale(1 1.045)" font-size="36" font-weight="bold" font-style="normal" text-anchor="start" fill="#ff0000" >m = 1.8</text>
<text transform="translate(588.6 1918.1) scale(1 1.045)" font-size="36" font-weight="bold" font-style="normal" text-anchor="start" fill="#ff0000" >b = 160</text>
<text transform="translate(588.6 1959.4) scale(1 1.045)" font-size="36" font-weight="bold" font-style="normal" text-anchor="start" fill="#ff0000" >r ² = 0.77</text>
<text transform="translate(566.8 2132.0) scale(1 1.045)" font-size="36" font-weight="bold" font-style="normal" text-anchor="start" fill="#000" >m = 0.82</text>
<text transform="translate(566.8 2173.3) scale(1 1.045)" font-size="36" font-weight="bold" font-style="normal" text-anchor="start" fill="#000" >b = 35</text>
<text transform="translate(566.8 2214.6) scale(1 1.045)" font-size="36" font-weight="bold" font-style="normal" text-anchor="start" fill="#000" >r ² = 0.93</text>
<line x1="1419.3" y1="2142.3" x2="1848.4" y2="1808.1" stroke="#5a5a5a" stroke-width="2.2"/>
<line x1="1361.5" y1="2164.4" x2="1408.2" y2="2083.9" stroke="#5a5a5a" stroke-width="2.2"/>
<circle cx="1616.3" cy="1926.0" r="13" fill="#000"/>
<circle cx="1660.2" cy="1936.9" r="13" fill="#000"/>
<circle cx="1700.0" cy="1918.8" r="13" fill="#000"/>
<circle cx="1697.1" cy="1934.0" r="13" fill="#000"/>
<circle cx="1735.8" cy="1969.2" r="13" fill="#000"/>
<circle cx="1583.8" cy="1957.7" r="13" fill="#000"/>
<circle cx="1641.4" cy="1965.8" r="13" fill="#000"/>
<circle cx="1582.3" cy="1986.0" r="13" fill="#000"/>
<circle cx="1563.0" cy="2002.4" r="13" fill="#000"/>
<circle cx="1598.2" cy="2001.5" r="13" fill="#000"/>
<circle cx="1543.4" cy="2032.1" r="13" fill="#000"/>
<circle cx="1578.0" cy="2029.2" r="13" fill="#000"/>
<circle cx="1625.6" cy="2029.2" r="13" fill="#000"/>
<circle cx="1493.5" cy="2042.8" r="13" fill="#000"/>
<circle cx="1524.6" cy="2055.8" r="13" fill="#000"/>
<circle cx="1578.8" cy="2058.1" r="13" fill="#000"/>
<circle cx="1497.2" cy="2074.5" r="13" fill="#000"/>
<circle cx="1460.6" cy="2101.9" r="13" fill="#000"/>
<circle cx="1495.8" cy="2103.4" r="13" fill="#000"/>
<circle cx="1516.5" cy="2103.4" r="13" fill="#000"/>
<circle cx="1455.4" cy="2135.1" r="13" fill="#000"/>
<circle cx="1418.5" cy="2163.9" r="13" fill="#000"/>
<circle cx="1530.0" cy="2052.0" r="13" fill="#000"/>
<circle cx="1850.5" cy="1778.5" r="13" fill="#000"/>
<circle cx="1864.8" cy="1800.4" r="13" fill="#000"/>
<circle cx="1852.5" cy="1795.0" r="13" fill="#000"/>
<circle cx="1826.4" cy="1788.1" r="13" fill="#000"/>
<circle cx="1809.9" cy="1798.2" r="13" fill="#000"/>
<circle cx="1843.4" cy="1834.8" r="13" fill="#000"/>
<circle cx="1847.0" cy="1840.3" r="13" fill="#000"/>
<circle cx="1796.2" cy="1852.6" r="13" fill="#000"/>
<circle cx="1814.0" cy="1855.4" r="13" fill="#000"/>
<polygon points="1399.1,2054.9 1425.1,2054.9 1412.1,2076.9" fill="#ff0000" stroke="#222" stroke-width="1.5"/>
<polygon points="1395.7,2073.9 1421.7,2073.9 1408.7,2095.9" fill="#ff0000" stroke="#222" stroke-width="1.5"/>
<polygon points="1361.0,2106.2 1387.0,2106.2 1374.0,2128.2" fill="#ff0000" stroke="#222" stroke-width="1.5"/>
<polygon points="1376.9,2103.4 1402.9,2103.4 1389.9,2125.4" fill="#ff0000" stroke="#222" stroke-width="1.5"/>
<polygon points="1386.1,2112.9 1412.1,2112.9 1399.1,2134.9" fill="#ff0000" stroke="#222" stroke-width="1.5"/>
<polygon points="1381.8,2122.1 1407.8,2122.1 1394.8,2144.1" fill="#ff0000" stroke="#222" stroke-width="1.5"/>
<polygon points="1359.3,2135.1 1385.3,2135.1 1372.3,2157.1" fill="#ff0000" stroke="#222" stroke-width="1.5"/>
<polygon points="1354.4,2144.6 1380.4,2144.6 1367.4,2166.6" fill="#ff0000" stroke="#222" stroke-width="1.5"/>
<polygon points="1347.2,2175.5 1373.2,2175.5 1360.2,2197.5" fill="#ff0000" stroke="#222" stroke-width="1.5"/>
<rect x="1344" y="1681.3" width="816.5999999999999" height="587.1000000000001" fill="none" stroke="#3c3c3c" stroke-width="3"/>
<line x1="1344.0" y1="2268.4" x2="1344.0" y2="2278.4" stroke="#3c3c3c" stroke-width="3"/>
<text transform="translate(1344.0 2325.4) scale(1 1.04)" font-size="35.5" font-weight="normal" font-style="normal" text-anchor="middle" fill="#000" >0</text>
<line x1="1577.3" y1="2268.4" x2="1577.3" y2="2278.4" stroke="#3c3c3c" stroke-width="3"/>
<text transform="translate(1577.3 2325.4) scale(1 1.04)" font-size="35.5" font-weight="normal" font-style="normal" text-anchor="middle" fill="#000" >200</text>
<line x1="1810.6" y1="2268.4" x2="1810.6" y2="2278.4" stroke="#3c3c3c" stroke-width="3"/>
<text transform="translate(1810.6 2325.4) scale(1 1.04)" font-size="35.5" font-weight="normal" font-style="normal" text-anchor="middle" fill="#000" >400</text>
<line x1="2043.9" y1="2268.4" x2="2043.9" y2="2278.4" stroke="#3c3c3c" stroke-width="3"/>
<text transform="translate(2043.9 2325.4) scale(1 1.04)" font-size="35.5" font-weight="normal" font-style="normal" text-anchor="middle" fill="#000" >600</text>
<line x1="1335" y1="2268.4" x2="1344" y2="2268.4" stroke="#3c3c3c" stroke-width="3"/>
<text transform="translate(1317.5 2279.1) scale(1 1.04)" font-size="35.5" font-weight="normal" font-style="normal" text-anchor="end" fill="#000" >0</text>
<line x1="1335" y1="2184.5" x2="1344" y2="2184.5" stroke="#3c3c3c" stroke-width="3"/>
<text transform="translate(1317.5 2195.2) scale(1 1.04)" font-size="35.5" font-weight="normal" font-style="normal" text-anchor="end" fill="#000" >100</text>
<line x1="1335" y1="2100.7" x2="1344" y2="2100.7" stroke="#3c3c3c" stroke-width="3"/>
<text transform="translate(1317.5 2111.4) scale(1 1.04)" font-size="35.5" font-weight="normal" font-style="normal" text-anchor="end" fill="#000" >200</text>
<line x1="1335" y1="2016.8" x2="1344" y2="2016.8" stroke="#3c3c3c" stroke-width="3"/>
<text transform="translate(1317.5 2027.5) scale(1 1.04)" font-size="35.5" font-weight="normal" font-style="normal" text-anchor="end" fill="#000" >300</text>
<line x1="1335" y1="1932.9" x2="1344" y2="1932.9" stroke="#3c3c3c" stroke-width="3"/>
<text transform="translate(1317.5 1943.6) scale(1 1.04)" font-size="35.5" font-weight="normal" font-style="normal" text-anchor="end" fill="#000" >400</text>
<line x1="1335" y1="1849.0" x2="1344" y2="1849.0" stroke="#3c3c3c" stroke-width="3"/>
<text transform="translate(1317.5 1859.8) scale(1 1.04)" font-size="35.5" font-weight="normal" font-style="normal" text-anchor="end" fill="#000" >500</text>
<line x1="1335" y1="1765.2" x2="1344" y2="1765.2" stroke="#3c3c3c" stroke-width="3"/>
<text transform="translate(1317.5 1775.9) scale(1 1.04)" font-size="35.5" font-weight="normal" font-style="normal" text-anchor="end" fill="#000" >600</text>
<line x1="1335" y1="1681.3" x2="1344" y2="1681.3" stroke="#3c3c3c" stroke-width="3"/>
<text transform="translate(1317.5 1692.0) scale(1 1.04)" font-size="35.5" font-weight="normal" font-style="normal" text-anchor="end" fill="#000" >700</text>
<text x="1752.3" y="2407.4" font-size="43.5" font-weight="bold" font-style="normal" text-anchor="middle" fill="#000" >LC-MS/MS (uM)</text>
<text x="1215.4" y="1974.8" font-size="43.5" font-weight="bold" font-style="normal" text-anchor="middle" fill="#000" transform="rotate(-90 1215.4 1974.8)">NMR (uM)</text>
<text x="1368.8" y="1764.4" font-size="57" font-weight="bold" font-style="normal" text-anchor="start" fill="#000" >Isoleucine</text>
<text transform="translate(1841.5 1946.0) scale(1 1.045)" font-size="36" font-weight="bold" font-style="normal" text-anchor="start" fill="#000" >m = 1.1</text>
<text transform="translate(1841.5 1987.3) scale(1 1.045)" font-size="36" font-weight="bold" font-style="normal" text-anchor="start" fill="#000" >b = 82</text>
<text transform="translate(1841.5 2028.6) scale(1 1.045)" font-size="36" font-weight="bold" font-style="normal" text-anchor="start" fill="#000" >r ² = 0.93</text>
<text transform="translate(1565.0 2139.4) scale(1 1.045)" font-size="36" font-weight="bold" font-style="normal" text-anchor="start" fill="#ff0000" >m = 2.4</text>
<text transform="translate(1565.0 2180.7) scale(1 1.045)" font-size="36" font-weight="bold" font-style="normal" text-anchor="start" fill="#ff0000" >b = 88</text>
<text transform="translate(1565.0 2222.0) scale(1 1.045)" font-size="36" font-weight="bold" font-style="normal" text-anchor="start" fill="#ff0000" >r ² = 0.81</text>
<line x1="359.4" y1="2911.6" x2="753.7" y2="2577.6" stroke="#5a5a5a" stroke-width="2.2"/>
<line x1="296" y1="2936.2" x2="404.1" y2="2790.5" stroke="#5a5a5a" stroke-width="2.2"/>
<circle cx="748.7" cy="2540.8" r="13" fill="#000"/>
<circle cx="763.5" cy="2543.0" r="13" fill="#000"/>
<circle cx="774.5" cy="2544.1" r="13" fill="#000"/>
<circle cx="795.4" cy="2549.6" r="13" fill="#000"/>
<circle cx="770.1" cy="2551.8" r="13" fill="#000"/>
<circle cx="758.0" cy="2563.8" r="13" fill="#000"/>
<circle cx="761.3" cy="2589.1" r="13" fill="#000"/>
<circle cx="759.1" cy="2601.2" r="13" fill="#000"/>
<circle cx="725.1" cy="2591.3" r="13" fill="#000"/>
<circle cx="722.9" cy="2615.5" r="13" fill="#000"/>
<circle cx="628.2" cy="2678.6" r="13" fill="#000"/>
<circle cx="638.3" cy="2687.2" r="13" fill="#000"/>
<circle cx="556.1" cy="2690.1" r="13" fill="#000"/>
<circle cx="599.3" cy="2700.2" r="13" fill="#000"/>
<circle cx="664.2" cy="2729.0" r="13" fill="#000"/>
<circle cx="531.5" cy="2720.4" r="13" fill="#000"/>
<circle cx="573.4" cy="2740.6" r="13" fill="#000"/>
<circle cx="535.9" cy="2765.1" r="13" fill="#000"/>
<circle cx="557.5" cy="2786.0" r="13" fill="#000"/>
<circle cx="515.2" cy="2751.5" r="13" fill="#000"/>
<circle cx="495.0" cy="2760.2" r="13" fill="#000"/>
<circle cx="502.2" cy="2790.5" r="13" fill="#000"/>
<circle cx="508.0" cy="2823.7" r="13" fill="#000"/>
<circle cx="430.1" cy="2807.8" r="13" fill="#000"/>
<circle cx="471.9" cy="2807.8" r="13" fill="#000"/>
<circle cx="458.9" cy="2820.8" r="13" fill="#000"/>
<circle cx="454.6" cy="2826.5" r="13" fill="#000"/>
<circle cx="465.0" cy="2814.0" r="13" fill="#000"/>
<circle cx="435.9" cy="2846.7" r="13" fill="#000"/>
<circle cx="434.4" cy="2861.2" r="13" fill="#000"/>
<circle cx="454.6" cy="2861.2" r="13" fill="#000"/>
<circle cx="396.9" cy="2872.7" r="13" fill="#000"/>
<circle cx="391.2" cy="2895.8" r="13" fill="#000"/>
<circle cx="359.4" cy="2936.2" r="13" fill="#000"/>
<polygon points="389.7,2771.7 415.7,2771.7 402.7,2793.7" fill="#ff0000" stroke="#222" stroke-width="1.5"/>
<polygon points="379.6,2807.8 405.6,2807.8 392.6,2829.8" fill="#ff0000" stroke="#222" stroke-width="1.5"/>
<polygon points="329.1,2849.6 355.1,2849.6 342.1,2871.6" fill="#ff0000" stroke="#222" stroke-width="1.5"/>
<polygon points="356.5,2849.0 382.5,2849.0 369.5,2871.0" fill="#ff0000" stroke="#222" stroke-width="1.5"/>
<polygon points="304.6,2864.6 330.6,2864.6 317.6,2886.6" fill="#ff0000" stroke="#222" stroke-width="1.5"/>
<polygon points="334.3,2879.9 360.3,2879.9 347.3,2901.9" fill="#ff0000" stroke="#222" stroke-width="1.5"/>
<polygon points="303.2,2890.6 329.2,2890.6 316.2,2912.6" fill="#ff0000" stroke="#222" stroke-width="1.5"/>
<polygon points="303.2,2904.4 329.2,2904.4 316.2,2926.4" fill="#ff0000" stroke="#222" stroke-width="1.5"/>
<polygon points="294.5,2913.1 320.5,2913.1 307.5,2935.1" fill="#ff0000" stroke="#222" stroke-width="1.5"/>
<polygon points="297.4,2921.7 323.4,2921.7 310.4,2943.7" fill="#ff0000" stroke="#222" stroke-width="1.5"/>
<polygon points="283.0,2954.9 309.0,2954.9 296.0,2976.9" fill="#ff0000" stroke="#222" stroke-width="1.5"/>
<rect x="273.3" y="2452.9" width="816.6000000000001" height="587.0" fill="none" stroke="#3c3c3c" stroke-width="3"/>
<line x1="273.3" y1="3039.9" x2="273.3" y2="3049.9" stroke="#3c3c3c" stroke-width="3"/>
<text transform="translate(273.3 3096.9) scale(1 1.04)" font-size="35.5" font-weight="normal" font-style="normal" text-anchor="middle" fill="#000" >0</text>
<line x1="477.5" y1="3039.9" x2="477.5" y2="3049.9" stroke="#3c3c3c" stroke-width="3"/>
<text transform="translate(477.5 3096.9) scale(1 1.04)" font-size="35.5" font-weight="normal" font-style="normal" text-anchor="middle" fill="#000" >200</text>
<line x1="681.6" y1="3039.9" x2="681.6" y2="3049.9" stroke="#3c3c3c" stroke-width="3"/>
<text transform="translate(681.6 3096.9) scale(1 1.04)" font-size="35.5" font-weight="normal" font-style="normal" text-anchor="middle" fill="#000" >400</text>
<line x1="885.8" y1="3039.9" x2="885.8" y2="3049.9" stroke="#3c3c3c" stroke-width="3"/>
<text transform="translate(885.8 3096.9) scale(1 1.04)" font-size="35.5" font-weight="normal" font-style="normal" text-anchor="middle" fill="#000" >600</text>
<line x1="1089.9" y1="3039.9" x2="1089.9" y2="3049.9" stroke="#3c3c3c" stroke-width="3"/>
<text transform="translate(1089.9 3096.9) scale(1 1.04)" font-size="35.5" font-weight="normal" font-style="normal" text-anchor="middle" fill="#000" >800</text>
<line x1="264.3" y1="3039.9" x2="273.3" y2="3039.9" stroke="#3c3c3c" stroke-width="3"/>
<text transform="translate(246.8 3050.6) scale(1 1.04)" font-size="35.5" font-weight="normal" font-style="normal" text-anchor="end" fill="#000" >0</text>
<line x1="264.3" y1="2893.2" x2="273.3" y2="2893.2" stroke="#3c3c3c" stroke-width="3"/>
<text transform="translate(246.8 2903.9) scale(1 1.04)" font-size="35.5" font-weight="normal" font-style="normal" text-anchor="end" fill="#000" >200</text>
<line x1="264.3" y1="2746.4" x2="273.3" y2="2746.4" stroke="#3c3c3c" stroke-width="3"/>
<text transform="translate(246.8 2757.1) scale(1 1.04)" font-size="35.5" font-weight="normal" font-style="normal" text-anchor="end" fill="#000" >400</text>
<line x1="264.3" y1="2599.7" x2="273.3" y2="2599.7" stroke="#3c3c3c" stroke-width="3"/>
<text transform="translate(246.8 2610.4) scale(1 1.04)" font-size="35.5" font-weight="normal" font-style="normal" text-anchor="end" fill="#000" >600</text>
<line x1="264.3" y1="2452.9" x2="273.3" y2="2452.9" stroke="#3c3c3c" stroke-width="3"/>
<text transform="translate(246.8 2463.6) scale(1 1.04)" font-size="35.5" font-weight="normal" font-style="normal" text-anchor="end" fill="#000" >800</text>
<text x="681.6" y="3178.9" font-size="43.5" font-weight="bold" font-style="normal" text-anchor="middle" fill="#000" >LC-MS/MS (uM)</text>
<text x="145.8" y="2746.4" font-size="43.5" font-weight="bold" font-style="normal" text-anchor="middle" fill="#000" transform="rotate(-90 145.8 2746.4)">NMR (uM)</text>
<text x="317.0" y="2534.6" font-size="57" font-weight="bold" font-style="normal" text-anchor="start" fill="#000" >Leucine</text>
<text transform="translate(757.1 2685.8) scale(1 1.045)" font-size="36" font-weight="bold" font-style="normal" text-anchor="start" fill="#000" >m = 1.2</text>
<text transform="translate(757.1 2727.1) scale(1 1.045)" font-size="36" font-weight="bold" font-style="normal" text-anchor="start" fill="#000" >b = 76</text>
<text transform="translate(757.1 2768.4) scale(1 1.045)" font-size="36" font-weight="bold" font-style="normal" text-anchor="start" fill="#000" >r ² = 0.94</text>
<text transform="translate(484.9 2887.1) scale(1 1.045)" font-size="36" font-weight="bold" font-style="normal" text-anchor="start" fill="#ff0000" >m = 1.9</text>
<text transform="translate(484.9 2928.4) scale(1 1.045)" font-size="36" font-weight="bold" font-style="normal" text-anchor="start" fill="#ff0000" >b = 100</text>
<text transform="translate(484.9 2969.7) scale(1 1.045)" font-size="36" font-weight="bold" font-style="normal" text-anchor="start" fill="#ff0000" >r ² = 0.88</text>
<line x1="1448.5" y1="2909.8" x2="2071.4" y2="2512.3" stroke="#5a5a5a" stroke-width="2.2"/>
<line x1="1358.6" y1="2965.9" x2="1452.6" y2="2897.9" stroke="#5a5a5a" stroke-width="2.2"/>
<line x1="1362" y1="3012" x2="1444.4" y2="2973.8" stroke="#5a5a5a" stroke-width="2.2"/>
<circle cx="1451.8" cy="2944.4" r="13" fill="#000"/>
<circle cx="1513.8" cy="2892.5" r="13" fill="#000"/>
<circle cx="1523.9" cy="2870.9" r="13" fill="#000"/>
<circle cx="1555.7" cy="2846.3" r="13" fill="#000"/>
<circle cx="1574.4" cy="2850.7" r="13" fill="#000"/>
<circle cx="1588.8" cy="2860.8" r="13" fill="#000"/>
<circle cx="1568.7" cy="2847.7" r="13" fill="#000"/>
<circle cx="1577.9" cy="2778.5" r="13" fill="#000"/>
<circle cx="1588.8" cy="2797.2" r="13" fill="#000"/>
<circle cx="1609.0" cy="2792.9" r="13" fill="#000"/>
<circle cx="1622.0" cy="2805.9" r="13" fill="#000"/>
<circle cx="1642.2" cy="2807.3" r="13" fill="#000"/>
<circle cx="1757.0" cy="2655.0" r="13" fill="#000"/>
<circle cx="1787.9" cy="2655.9" r="13" fill="#000"/>
<circle cx="1798.0" cy="2651.5" r="13" fill="#000"/>
<circle cx="1813.8" cy="2664.5" r="13" fill="#000"/>
<circle cx="1892.3" cy="2694.2" r="13" fill="#000"/>
<circle cx="1716.6" cy="2702.9" r="13" fill="#000"/>
<circle cx="1681.2" cy="2720.8" r="13" fill="#000"/>
<circle cx="1738.8" cy="2731.7" r="13" fill="#000"/>
<circle cx="1697.9" cy="2742.4" r="13" fill="#000"/>
<circle cx="1678.8" cy="2751.1" r="13" fill="#000"/>
<circle cx="1679.7" cy="2775.0" r="13" fill="#000"/>
<circle cx="1731.1" cy="2789.4" r="13" fill="#000"/>
<circle cx="1973.8" cy="2517.9" r="13" fill="#000"/>
<circle cx="2036.0" cy="2504.0" r="13" fill="#000"/>
<circle cx="2042.0" cy="2508.0" r="13" fill="#000"/>
<circle cx="2010.7" cy="2544.1" r="13" fill="#000"/>
<circle cx="2068.8" cy="2538.8" r="13" fill="#000"/>
<circle cx="2072.3" cy="2545.0" r="13" fill="#000"/>
<circle cx="2051.8" cy="2561.1" r="13" fill="#000"/>
<circle cx="1994.6" cy="2588.8" r="13" fill="#000"/>
<circle cx="1953.2" cy="2608.4" r="13" fill="#000"/>
<polygon points="1435.9,2881.0 1461.9,2881.0 1448.9,2903.0" fill="#ff0000" stroke="#222" stroke-width="1.5"/>
<polygon points="1404.2,2896.0 1430.2,2896.0 1417.2,2918.0" fill="#ff0000" stroke="#222" stroke-width="1.5"/>
<polygon points="1436.8,2911.2 1462.8,2911.2 1449.8,2933.2" fill="#ff0000" stroke="#222" stroke-width="1.5"/>
<polygon points="1371.0,2924.2 1397.0,2924.2 1384.0,2946.2" fill="#ff0000" stroke="#222" stroke-width="1.5"/>
<polygon points="1396.4,2924.2 1422.4,2924.2 1409.4,2946.2" fill="#ff0000" stroke="#222" stroke-width="1.5"/>
<polygon points="1397.6,2931.4 1423.6,2931.4 1410.6,2953.4" fill="#ff0000" stroke="#222" stroke-width="1.5"/>
<polygon points="1356.6,2944.4 1382.6,2944.4 1369.6,2966.4" fill="#ff0000" stroke="#222" stroke-width="1.5"/>
<polygon points="1368.2,2945.9 1394.2,2945.9 1381.2,2967.9" fill="#ff0000" stroke="#222" stroke-width="1.5"/>
<polygon points="1365.3,2951.6 1391.3,2951.6 1378.3,2973.6" fill="#ff0000" stroke="#222" stroke-width="1.5"/>
<polygon points="1369.6,2954.5 1395.6,2954.5 1382.6,2976.5" fill="#ff0000" stroke="#222" stroke-width="1.5"/>
<polygon points="1352.3,2967.5 1378.3,2967.5 1365.3,2989.5" fill="#ff0000" stroke="#222" stroke-width="1.5"/>
<rect x="1427.9" y="2967.5" width="23" height="23" fill="#00ff00" stroke="#0d2a0d" stroke-width="2"/>
<rect x="1376.9" y="2979.1" width="23" height="23" fill="#00ff00" stroke="#0d2a0d" stroke-width="2"/>
<rect x="1389.8" y="2979.1" width="23" height="23" fill="#00ff00" stroke="#0d2a0d" stroke-width="2"/>
<rect x="1381.2" y="2992.1" width="23" height="23" fill="#00ff00" stroke="#0d2a0d" stroke-width="2"/>
<rect x="1358.1" y="2999.3" width="23" height="23" fill="#00ff00" stroke="#0d2a0d" stroke-width="2"/>
<rect x="1350.9" y="3006.5" width="23" height="23" fill="#00ff00" stroke="#0d2a0d" stroke-width="2"/>
<rect x="1363.9" y="3003.6" width="23" height="23" fill="#00ff00" stroke="#0d2a0d" stroke-width="2"/>
<rect x="1338.2" y="2455" width="816.9999999999998" height="586.8000000000002" fill="none" stroke="#3c3c3c" stroke-width="3"/>
<line x1="1338.2" y1="3041.8" x2="1338.2" y2="3051.8" stroke="#3c3c3c" stroke-width="3"/>
<text transform="translate(1338.2 3098.8) scale(1 1.04)" font-size="35.5" font-weight="normal" font-style="normal" text-anchor="middle" fill="#000" >0</text>
<line x1="1542.5" y1="3041.8" x2="1542.5" y2="3051.8" stroke="#3c3c3c" stroke-width="3"/>
<text transform="translate(1542.5 3098.8) scale(1 1.04)" font-size="35.5" font-weight="normal" font-style="normal" text-anchor="middle" fill="#000" >50</text>
<line x1="1746.7" y1="3041.8" x2="1746.7" y2="3051.8" stroke="#3c3c3c" stroke-width="3"/>
<text transform="translate(1746.7 3098.8) scale(1 1.04)" font-size="35.5" font-weight="normal" font-style="normal" text-anchor="middle" fill="#000" >100</text>
<line x1="1950.9" y1="3041.8" x2="1950.9" y2="3051.8" stroke="#3c3c3c" stroke-width="3"/>
<text transform="translate(1950.9 3098.8) scale(1 1.04)" font-size="35.5" font-weight="normal" font-style="normal" text-anchor="middle" fill="#000" >150</text>
<line x1="2155.2" y1="3041.8" x2="2155.2" y2="3051.8" stroke="#3c3c3c" stroke-width="3"/>
<text transform="translate(2155.2 3098.8) scale(1 1.04)" font-size="35.5" font-weight="normal" font-style="normal" text-anchor="middle" fill="#000" >200</text>
<line x1="1329.2" y1="3041.8" x2="1338.2" y2="3041.8" stroke="#3c3c3c" stroke-width="3"/>
<text transform="translate(1311.7 3052.5) scale(1 1.04)" font-size="35.5" font-weight="normal" font-style="normal" text-anchor="end" fill="#000" >0</text>
<line x1="1329.2" y1="2895.1" x2="1338.2" y2="2895.1" stroke="#3c3c3c" stroke-width="3"/>
<text transform="translate(1311.7 2905.8) scale(1 1.04)" font-size="35.5" font-weight="normal" font-style="normal" text-anchor="end" fill="#000" >50</text>
<line x1="1329.2" y1="2748.4" x2="1338.2" y2="2748.4" stroke="#3c3c3c" stroke-width="3"/>
<text transform="translate(1311.7 2759.1) scale(1 1.04)" font-size="35.5" font-weight="normal" font-style="normal" text-anchor="end" fill="#000" >100</text>
<line x1="1329.2" y1="2601.7" x2="1338.2" y2="2601.7" stroke="#3c3c3c" stroke-width="3"/>
<text transform="translate(1311.7 2612.4) scale(1 1.04)" font-size="35.5" font-weight="normal" font-style="normal" text-anchor="end" fill="#000" >150</text>
<line x1="1329.2" y1="2455.0" x2="1338.2" y2="2455.0" stroke="#3c3c3c" stroke-width="3"/>
<text transform="translate(1311.7 2465.7) scale(1 1.04)" font-size="35.5" font-weight="normal" font-style="normal" text-anchor="end" fill="#000" >200</text>
<text x="1746.7" y="3180.8" font-size="43.5" font-weight="bold" font-style="normal" text-anchor="middle" fill="#000" >LC-MS/MS (uM)</text>
<text x="1210.7" y="2748.4" font-size="43.5" font-weight="bold" font-style="normal" text-anchor="middle" fill="#000" transform="rotate(-90 1210.7 2748.4)">NMR (uM)</text>
<text x="1375.9" y="2533.4" font-size="57" font-weight="bold" font-style="normal" text-anchor="start" fill="#000" >Phenylalanine</text>
<text transform="translate(1871.5 2746.7) scale(1 1.045)" font-size="36" font-weight="bold" font-style="normal" text-anchor="start" fill="#000" >m = 0.89</text>
<text transform="translate(1871.5 2788.0) scale(1 1.045)" font-size="36" font-weight="bold" font-style="normal" text-anchor="start" fill="#000" >b = 21</text>
<text transform="translate(1871.5 2829.3) scale(1 1.045)" font-size="36" font-weight="bold" font-style="normal" text-anchor="start" fill="#000" >r ² = 0.93</text>
<text transform="translate(1371.0 2735.3) scale(1 1.045)" font-size="36" font-weight="bold" font-style="normal" text-anchor="start" fill="#ff0000" >m = 1.0</text>
<text transform="translate(1371.0 2776.6) scale(1 1.045)" font-size="36" font-weight="bold" font-style="normal" text-anchor="start" fill="#ff0000" >b = 21</text>
<text transform="translate(1371.0 2817.9) scale(1 1.045)" font-size="36" font-weight="bold" font-style="normal" text-anchor="start" fill="#ff0000" >r ² = 0.76</text>
<text transform="translate(1523.9 2932.9) scale(1 1.045)" font-size="36" font-weight="bold" font-style="normal" text-anchor="start" fill="#00ff00" >m = 0.68</text>
<text transform="translate(1523.9 2974.2) scale(1 1.045)" font-size="36" font-weight="bold" font-style="normal" text-anchor="start" fill="#00ff00" >b = 5.5</text>
<text transform="translate(1523.9 3015.5) scale(1 1.045)" font-size="36" font-weight="bold" font-style="normal" text-anchor="start" fill="#00ff00" >r ² = 0.87</text>
<line x1="368.8" y1="3710" x2="889.1" y2="3318" stroke="#5a5a5a" stroke-width="2.2"/>
<line x1="289.5" y1="3711.4" x2="360.2" y2="3627.8" stroke="#5a5a5a" stroke-width="2.2"/>
<line x1="279.8" y1="3784.8" x2="306.6" y2="3742.3" stroke="#5a5a5a" stroke-width="2.2"/>
<circle cx="814.1" cy="3331.8" r="13" fill="#000"/>
<circle cx="837.2" cy="3334.7" r="13" fill="#000"/>
<circle cx="843.0" cy="3356.3" r="13" fill="#000"/>
<circle cx="854.5" cy="3354.9" r="13" fill="#000"/>
<circle cx="890.6" cy="3347.7" r="13" fill="#000"/>
<circle cx="757.9" cy="3398.2" r="13" fill="#000"/>
<circle cx="778.1" cy="3389.5" r="13" fill="#000"/>
<circle cx="801.2" cy="3409.7" r="13" fill="#000"/>
<circle cx="711.7" cy="3480.4" r="13" fill="#000"/>
<circle cx="574.7" cy="3478.9" r="13" fill="#000"/>
<circle cx="599.8" cy="3484.7" r="13" fill="#000"/>
<circle cx="626.6" cy="3500.6" r="13" fill="#000"/>
<circle cx="592.9" cy="3512.7" r="13" fill="#000"/>
<circle cx="571.8" cy="3526.5" r="13" fill="#000"/>
<circle cx="629.5" cy="3531.7" r="13" fill="#000"/>
<circle cx="605.0" cy="3549.6" r="13" fill="#000"/>
<circle cx="577.6" cy="3559.7" r="13" fill="#000"/>
<circle cx="573.3" cy="3571.2" r="13" fill="#000"/>
<circle cx="580.5" cy="3584.2" r="13" fill="#000"/>
<circle cx="576.5" cy="3565.8" r="13" fill="#000"/>
<circle cx="462.0" cy="3593.2" r="13" fill="#000"/>
<circle cx="521.7" cy="3591.7" r="13" fill="#000"/>
<circle cx="510.2" cy="3613.4" r="13" fill="#000"/>
<circle cx="562.1" cy="3613.4" r="13" fill="#000"/>
<circle cx="451.9" cy="3633.6" r="13" fill="#000"/>
<circle cx="413.6" cy="3650.9" r="13" fill="#000"/>
<circle cx="461.2" cy="3659.5" r="13" fill="#000"/>
<circle cx="493.7" cy="3663.8" r="13" fill="#000"/>
<circle cx="423.1" cy="3688.4" r="13" fill="#000"/>
<circle cx="354.4" cy="3713.5" r="13" fill="#000"/>
<polygon points="363.1,3605.6 389.1,3605.6 376.1,3627.6" fill="#ff0000" stroke="#222" stroke-width="1.5"/>
<polygon points="355.8,3616.2 381.8,3616.2 368.8,3638.2" fill="#ff0000" stroke="#222" stroke-width="1.5"/>
<polygon points="325.6,3633.0 351.6,3633.0 338.6,3655.0" fill="#ff0000" stroke="#222" stroke-width="1.5"/>
<polygon points="303.3,3646.5 329.3,3646.5 316.3,3668.5" fill="#ff0000" stroke="#222" stroke-width="1.5"/>
<polygon points="330.5,3651.7 356.5,3651.7 343.5,3673.7" fill="#ff0000" stroke="#222" stroke-width="1.5"/>
<polygon points="329.3,3656.6 355.3,3656.6 342.3,3678.6" fill="#ff0000" stroke="#222" stroke-width="1.5"/>
<polygon points="301.0,3672.5 327.0,3672.5 314.0,3694.5" fill="#ff0000" stroke="#222" stroke-width="1.5"/>
<polygon points="303.9,3678.3 329.9,3678.3 316.9,3700.3" fill="#ff0000" stroke="#222" stroke-width="1.5"/>
<polygon points="292.4,3678.3 318.4,3678.3 305.4,3700.3" fill="#ff0000" stroke="#222" stroke-width="1.5"/>
<polygon points="293.8,3688.4 319.8,3688.4 306.8,3710.4" fill="#ff0000" stroke="#222" stroke-width="1.5"/>
<polygon points="276.5,3720.1 302.5,3720.1 289.5,3742.1" fill="#ff0000" stroke="#222" stroke-width="1.5"/>
<rect x="294.4" y="3742.3" width="22" height="22" fill="#00ff00" stroke="#0d2a0d" stroke-width="2"/>
<rect x="278.5" y="3733.6" width="22" height="22" fill="#00ff00" stroke="#0d2a0d" stroke-width="2"/>
<rect x="277.1" y="3749.5" width="22" height="22" fill="#00ff00" stroke="#0d2a0d" stroke-width="2"/>
<rect x="282.8" y="3759.6" width="22" height="22" fill="#00ff00" stroke="#0d2a0d" stroke-width="2"/>
<rect x="275.6" y="3769.7" width="22" height="22" fill="#00ff00" stroke="#0d2a0d" stroke-width="2"/>
<rect x="269.9" y="3776.9" width="22" height="22" fill="#00ff00" stroke="#0d2a0d" stroke-width="2"/>
<rect x="281.4" y="3753.8" width="22" height="22" fill="#00ff00" stroke="#0d2a0d" stroke-width="2"/>
<rect x="265.8" y="3216.9" width="816.4000000000001" height="587.9000000000001" fill="none" stroke="#3c3c3c" stroke-width="3"/>
<line x1="265.8" y1="3804.8" x2="265.8" y2="3814.8" stroke="#3c3c3c" stroke-width="3"/>
<text transform="translate(265.8 3861.8) scale(1 1.04)" font-size="35.5" font-weight="normal" font-style="normal" text-anchor="middle" fill="#000" >0</text>
<line x1="382.4" y1="3804.8" x2="382.4" y2="3814.8" stroke="#3c3c3c" stroke-width="3"/>
<text transform="translate(382.4 3861.8) scale(1 1.04)" font-size="35.5" font-weight="normal" font-style="normal" text-anchor="middle" fill="#000" >100</text>
<line x1="499.1" y1="3804.8" x2="499.1" y2="3814.8" stroke="#3c3c3c" stroke-width="3"/>
<text transform="translate(499.1 3861.8) scale(1 1.04)" font-size="35.5" font-weight="normal" font-style="normal" text-anchor="middle" fill="#000" >200</text>
<line x1="615.7" y1="3804.8" x2="615.7" y2="3814.8" stroke="#3c3c3c" stroke-width="3"/>
<text transform="translate(615.7 3861.8) scale(1 1.04)" font-size="35.5" font-weight="normal" font-style="normal" text-anchor="middle" fill="#000" >300</text>
<line x1="732.3" y1="3804.8" x2="732.3" y2="3814.8" stroke="#3c3c3c" stroke-width="3"/>
<text transform="translate(732.3 3861.8) scale(1 1.04)" font-size="35.5" font-weight="normal" font-style="normal" text-anchor="middle" fill="#000" >400</text>
<line x1="848.9" y1="3804.8" x2="848.9" y2="3814.8" stroke="#3c3c3c" stroke-width="3"/>
<text transform="translate(848.9 3861.8) scale(1 1.04)" font-size="35.5" font-weight="normal" font-style="normal" text-anchor="middle" fill="#000" >500</text>
<line x1="965.6" y1="3804.8" x2="965.6" y2="3814.8" stroke="#3c3c3c" stroke-width="3"/>
<text transform="translate(965.6 3861.8) scale(1 1.04)" font-size="35.5" font-weight="normal" font-style="normal" text-anchor="middle" fill="#000" >600</text>
<line x1="1082.2" y1="3804.8" x2="1082.2" y2="3814.8" stroke="#3c3c3c" stroke-width="3"/>
<text transform="translate(1082.2 3861.8) scale(1 1.04)" font-size="35.5" font-weight="normal" font-style="normal" text-anchor="middle" fill="#000" >700</text>
<line x1="256.8" y1="3804.8" x2="265.8" y2="3804.8" stroke="#3c3c3c" stroke-width="3"/>
<text transform="translate(239.3 3815.5) scale(1 1.04)" font-size="35.5" font-weight="normal" font-style="normal" text-anchor="end" fill="#000" >0</text>
<line x1="256.8" y1="3720.8" x2="265.8" y2="3720.8" stroke="#3c3c3c" stroke-width="3"/>
<text transform="translate(239.3 3731.5) scale(1 1.04)" font-size="35.5" font-weight="normal" font-style="normal" text-anchor="end" fill="#000" >100</text>
<line x1="256.8" y1="3636.8" x2="265.8" y2="3636.8" stroke="#3c3c3c" stroke-width="3"/>
<text transform="translate(239.3 3647.5) scale(1 1.04)" font-size="35.5" font-weight="normal" font-style="normal" text-anchor="end" fill="#000" >200</text>
<line x1="256.8" y1="3552.8" x2="265.8" y2="3552.8" stroke="#3c3c3c" stroke-width="3"/>
<text transform="translate(239.3 3563.6) scale(1 1.04)" font-size="35.5" font-weight="normal" font-style="normal" text-anchor="end" fill="#000" >300</text>
<line x1="256.8" y1="3468.9" x2="265.8" y2="3468.9" stroke="#3c3c3c" stroke-width="3"/>
<text transform="translate(239.3 3479.6) scale(1 1.04)" font-size="35.5" font-weight="normal" font-style="normal" text-anchor="end" fill="#000" >400</text>
<line x1="256.8" y1="3384.9" x2="265.8" y2="3384.9" stroke="#3c3c3c" stroke-width="3"/>
<text transform="translate(239.3 3395.6) scale(1 1.04)" font-size="35.5" font-weight="normal" font-style="normal" text-anchor="end" fill="#000" >500</text>
<line x1="256.8" y1="3300.9" x2="265.8" y2="3300.9" stroke="#3c3c3c" stroke-width="3"/>
<text transform="translate(239.3 3311.6) scale(1 1.04)" font-size="35.5" font-weight="normal" font-style="normal" text-anchor="end" fill="#000" >600</text>
<line x1="256.8" y1="3216.9" x2="265.8" y2="3216.9" stroke="#3c3c3c" stroke-width="3"/>
<text transform="translate(239.3 3227.6) scale(1 1.04)" font-size="35.5" font-weight="normal" font-style="normal" text-anchor="end" fill="#000" >700</text>
<text x="674.0" y="3943.8" font-size="43.5" font-weight="bold" font-style="normal" text-anchor="middle" fill="#000" >LC-MS/MS (uM)</text>
<text x="138.3" y="3510.9" font-size="43.5" font-weight="bold" font-style="normal" text-anchor="middle" fill="#000" transform="rotate(-90 138.3 3510.9)">NMR (uM)</text>
<text x="408.6" y="3294.6" font-size="57" font-weight="bold" font-style="normal" text-anchor="start" fill="#000" >Valine</text>
<text transform="translate(850.2 3432.8) scale(1 1.045)" font-size="36" font-weight="bold" font-style="normal" text-anchor="start" fill="#000" >m = 1.0</text>
<text transform="translate(850.2 3474.1) scale(1 1.045)" font-size="36" font-weight="bold" font-style="normal" text-anchor="start" fill="#000" >b = 22</text>
<text transform="translate(850.2 3515.4) scale(1 1.045)" font-size="36" font-weight="bold" font-style="normal" text-anchor="start" fill="#000" >r ² = 0.93</text>
<text transform="translate(335.5 3477.0) scale(1 1.045)" font-size="36" font-weight="bold" font-style="normal" text-anchor="start" fill="#ff0000" >m = 1.6</text>
<text transform="translate(335.5 3518.3) scale(1 1.045)" font-size="36" font-weight="bold" font-style="normal" text-anchor="start" fill="#ff0000" >b = 81</text>
<text transform="translate(335.5 3559.6) scale(1 1.045)" font-size="36" font-weight="bold" font-style="normal" text-anchor="start" fill="#ff0000" >r ² = 0.86</text>
<text transform="translate(554.9 3694.1) scale(1 1.045)" font-size="36" font-weight="bold" font-style="normal" text-anchor="start" fill="#00ff00" >m = 2.2</text>
<text transform="translate(554.9 3735.4) scale(1 1.045)" font-size="36" font-weight="bold" font-style="normal" text-anchor="start" fill="#00ff00" >b = -2.6</text>
<text transform="translate(554.9 3776.7) scale(1 1.045)" font-size="36" font-weight="bold" font-style="normal" text-anchor="start" fill="#00ff00" >r ² = 0.61</text>
<line x1="1365.7" y1="3701" x2="1919.4" y2="3305.4" stroke="#5a5a5a" stroke-width="2.2"/>
<line x1="1421.9" y1="3729.3" x2="1740" y2="3530" stroke="#5a5a5a" stroke-width="2.2"/>
<circle cx="1525.8" cy="3526.0" r="13" fill="#000"/>
<circle cx="1614.6" cy="3514.5" r="13" fill="#000"/>
<circle cx="1607.0" cy="3500.5" r="13" fill="#000"/>
<circle cx="1607.7" cy="3484.0" r="13" fill="#000"/>
<circle cx="1542.5" cy="3482.6" r="13" fill="#000"/>
<circle cx="1710.4" cy="3539.0" r="13" fill="#000"/>
<circle cx="1544.5" cy="3551.9" r="13" fill="#000"/>
<circle cx="1520.0" cy="3566.3" r="13" fill="#000"/>
<circle cx="1537.3" cy="3570.7" r="13" fill="#000"/>
<circle cx="1494.0" cy="3589.4" r="13" fill="#000"/>
<circle cx="1460.9" cy="3605.3" r="13" fill="#000"/>
<circle cx="1483.9" cy="3613.9" r="13" fill="#000"/>
<circle cx="1469.5" cy="3629.8" r="13" fill="#000"/>
<circle cx="1566.2" cy="3590.9" r="13" fill="#000"/>
<circle cx="1580.6" cy="3599.5" r="13" fill="#000"/>
<circle cx="1571.9" cy="3615.4" r="13" fill="#000"/>
<circle cx="1419.6" cy="3640.8" r="13" fill="#000"/>
<circle cx="1394.5" cy="3671.6" r="13" fill="#000"/>
<circle cx="1437.8" cy="3673.1" r="13" fill="#000"/>
<circle cx="1461.7" cy="3684.6" r="13" fill="#000"/>
<circle cx="1403.8" cy="3712.0" r="13" fill="#000"/>
<circle cx="1365.7" cy="3733.1" r="13" fill="#000"/>
<circle cx="1851.6" cy="3313.2" r="13" fill="#000"/>
<circle cx="1864.6" cy="3314.6" r="13" fill="#000"/>
<circle cx="1838.1" cy="3331.9" r="13" fill="#000"/>
<circle cx="1809.2" cy="3344.0" r="13" fill="#000"/>
<circle cx="1921.7" cy="3349.2" r="13" fill="#000"/>
<circle cx="1801.2" cy="3382.4" r="13" fill="#000"/>
<circle cx="1843.8" cy="3379.5" r="13" fill="#000"/>
<circle cx="1801.2" cy="3401.2" r="13" fill="#000"/>
<circle cx="1794.8" cy="3421.9" r="13" fill="#000"/>
<circle cx="1697.3" cy="3469.8" r="13" fill="#000"/>
<circle cx="1713.2" cy="3539.0" r="13" fill="#000"/>
<polygon points="1290.2,3821.6 1316.2,3821.6 1303.2,3843.6" fill="#ff0000" stroke="#222" stroke-width="1.5"/>
<rect x="1650.4" y="3554.3" width="23" height="23" fill="#00ff00" stroke="#0d2a0d" stroke-width="2"/>
<rect x="1694.5" y="3552.0" width="23" height="23" fill="#00ff00" stroke="#0d2a0d" stroke-width="2"/>
<rect x="1724.2" y="3520.9" width="23" height="23" fill="#00ff00" stroke="#0d2a0d" stroke-width="2"/>
<rect x="1486.9" y="3658.7" width="23" height="23" fill="#00ff00" stroke="#0d2a0d" stroke-width="2"/>
<rect x="1402.3" y="3731.4" width="23" height="23" fill="#00ff00" stroke="#0d2a0d" stroke-width="2"/>
<rect x="1380.1" y="3737.2" width="23" height="23" fill="#00ff00" stroke="#0d2a0d" stroke-width="2"/>
<rect x="1335.4" y="3749.6" width="23" height="23" fill="#00ff00" stroke="#0d2a0d" stroke-width="2"/>
<rect x="1357.1" y="3753.9" width="23" height="23" fill="#00ff00" stroke="#0d2a0d" stroke-width="2"/>
<rect x="1348.4" y="3761.1" width="23" height="23" fill="#00ff00" stroke="#0d2a0d" stroke-width="2"/>
<rect x="1331.1" y="3766.9" width="23" height="23" fill="#00ff00" stroke="#0d2a0d" stroke-width="2"/>
<rect x="1326.8" y="3778.4" width="23" height="23" fill="#00ff00" stroke="#0d2a0d" stroke-width="2"/>
<rect x="1335.4" y="3774.1" width="23" height="23" fill="#00ff00" stroke="#0d2a0d" stroke-width="2"/>
<rect x="1302.3" y="3241.3" width="817.0000000000002" height="587.5" fill="none" stroke="#3c3c3c" stroke-width="3"/>
<line x1="1302.3" y1="3828.8" x2="1302.3" y2="3838.8" stroke="#3c3c3c" stroke-width="3"/>
<text transform="translate(1302.3 3885.8) scale(1 1.04)" font-size="35.5" font-weight="normal" font-style="normal" text-anchor="middle" fill="#000" >0</text>
<line x1="1465.7" y1="3828.8" x2="1465.7" y2="3838.8" stroke="#3c3c3c" stroke-width="3"/>
<text transform="translate(1465.7 3885.8) scale(1 1.04)" font-size="35.5" font-weight="normal" font-style="normal" text-anchor="middle" fill="#000" >100</text>
<line x1="1629.1" y1="3828.8" x2="1629.1" y2="3838.8" stroke="#3c3c3c" stroke-width="3"/>
<text transform="translate(1629.1 3885.8) scale(1 1.04)" font-size="35.5" font-weight="normal" font-style="normal" text-anchor="middle" fill="#000" >200</text>
<line x1="1792.5" y1="3828.8" x2="1792.5" y2="3838.8" stroke="#3c3c3c" stroke-width="3"/>
<text transform="translate(1792.5 3885.8) scale(1 1.04)" font-size="35.5" font-weight="normal" font-style="normal" text-anchor="middle" fill="#000" >300</text>
<line x1="1955.9" y1="3828.8" x2="1955.9" y2="3838.8" stroke="#3c3c3c" stroke-width="3"/>
<text transform="translate(1955.9 3885.8) scale(1 1.04)" font-size="35.5" font-weight="normal" font-style="normal" text-anchor="middle" fill="#000" >400</text>
<line x1="2119.3" y1="3828.8" x2="2119.3" y2="3838.8" stroke="#3c3c3c" stroke-width="3"/>
<text transform="translate(2119.3 3885.8) scale(1 1.04)" font-size="35.5" font-weight="normal" font-style="normal" text-anchor="middle" fill="#000" >500</text>
<line x1="1293.3" y1="3828.8" x2="1302.3" y2="3828.8" stroke="#3c3c3c" stroke-width="3"/>
<text transform="translate(1275.8 3839.5) scale(1 1.04)" font-size="35.5" font-weight="normal" font-style="normal" text-anchor="end" fill="#000" >0</text>
<line x1="1293.3" y1="3711.3" x2="1302.3" y2="3711.3" stroke="#3c3c3c" stroke-width="3"/>
<text transform="translate(1275.8 3722.0) scale(1 1.04)" font-size="35.5" font-weight="normal" font-style="normal" text-anchor="end" fill="#000" >100</text>
<line x1="1293.3" y1="3593.8" x2="1302.3" y2="3593.8" stroke="#3c3c3c" stroke-width="3"/>
<text transform="translate(1275.8 3604.5) scale(1 1.04)" font-size="35.5" font-weight="normal" font-style="normal" text-anchor="end" fill="#000" >200</text>
<line x1="1293.3" y1="3476.3" x2="1302.3" y2="3476.3" stroke="#3c3c3c" stroke-width="3"/>
<text transform="translate(1275.8 3487.0) scale(1 1.04)" font-size="35.5" font-weight="normal" font-style="normal" text-anchor="end" fill="#000" >300</text>
<line x1="1293.3" y1="3358.8" x2="1302.3" y2="3358.8" stroke="#3c3c3c" stroke-width="3"/>
<text transform="translate(1275.8 3369.5) scale(1 1.04)" font-size="35.5" font-weight="normal" font-style="normal" text-anchor="end" fill="#000" >400</text>
<line x1="1293.3" y1="3241.3" x2="1302.3" y2="3241.3" stroke="#3c3c3c" stroke-width="3"/>
<text transform="translate(1275.8 3252.0) scale(1 1.04)" font-size="35.5" font-weight="normal" font-style="normal" text-anchor="end" fill="#000" >500</text>
<text x="1710.8" y="3967.8" font-size="43.5" font-weight="bold" font-style="normal" text-anchor="middle" fill="#000" >LC-MS/MS (uM)</text>
<text x="1174.2" y="3535.1" font-size="43.5" font-weight="bold" font-style="normal" text-anchor="middle" fill="#000" transform="rotate(-90 1174.2 3535.1)">NMR (uM)</text>
<text x="1392.8" y="3320.8" font-size="57" font-weight="bold" font-style="normal" text-anchor="start" fill="#000" >Threonine</text>
<text transform="translate(1883.4 3448.0) scale(1 1.045)" font-size="36" font-weight="bold" font-style="normal" text-anchor="start" fill="#000" >m = 0.99</text>
<text transform="translate(1883.4 3489.3) scale(1 1.045)" font-size="36" font-weight="bold" font-style="normal" text-anchor="start" fill="#000" >b = 70</text>
<text transform="translate(1883.4 3530.6) scale(1 1.045)" font-size="36" font-weight="bold" font-style="normal" text-anchor="start" fill="#000" >r ² = 0.90</text>
<text transform="translate(1612.3 3680.3) scale(1 1.045)" font-size="36" font-weight="bold" font-style="normal" text-anchor="start" fill="#00ff00" >m = 0.88</text>
<text transform="translate(1612.3 3721.6) scale(1 1.045)" font-size="36" font-weight="bold" font-style="normal" text-anchor="start" fill="#00ff00" >b = 21</text>
<text transform="translate(1612.3 3762.9) scale(1 1.045)" font-size="36" font-weight="bold" font-style="normal" text-anchor="start" fill="#00ff00" >r ² = 0.99</text>
<circle cx="1462.5" cy="210.7" r="21.5" fill="#000"/>
<polygon points="1441.8,275 1483.9,275 1462.8,310.7" fill="#ff0000" stroke="#222" stroke-width="1.5"/>
<rect x="1444" y="346.4" width="37.4" height="35" fill="#00ff00" stroke="#1a1a1a" stroke-width="2"/>
<text x="1500.0" y="226.0" font-size="47" font-weight="normal" font-style="italic" text-anchor="start" fill="#000" >Daphnia magna</text>
<text x="1500.0" y="302.9" font-size="47" font-weight="normal" font-style="italic" text-anchor="start" fill="#000" >Eisenia fetida</text>
<text x="1500.0" y="379.6" font-size="47" font-weight="normal" font-style="italic" text-anchor="start" fill="#000" >Nicotiana tabacum</text></svg></body></html>
